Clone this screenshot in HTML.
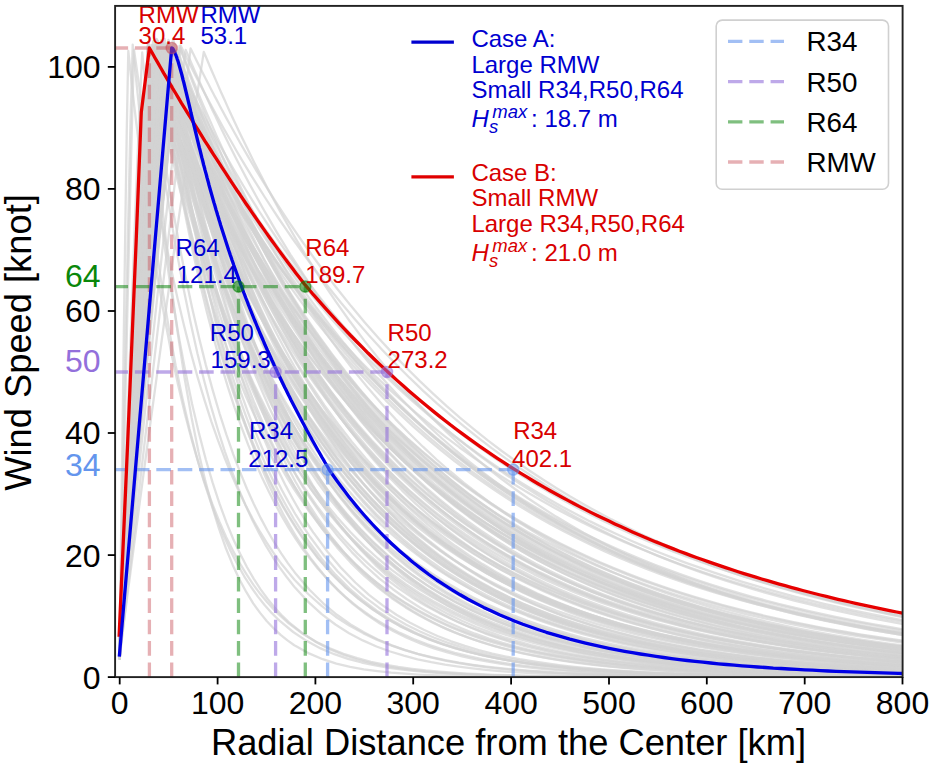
<!DOCTYPE html><html><head><meta charset="utf-8"><style>html,body{margin:0;padding:0;background:#fff;}svg{display:block;}text{font-family:"Liberation Sans",sans-serif;}</style></head><body>
<svg width="933" height="769" viewBox="0 0 933 769">
<rect width="933" height="769" fill="#fff"/>
<defs><clipPath id="ax"><rect x="115.1" y="5.9" width="787.5" height="671.2"/></clipPath></defs>
<g clip-path="url(#ax)">
<g fill="none" stroke="#d3d3d3" stroke-width="2.3" stroke-opacity="0.7" stroke-linejoin="round">
<polyline points="119.7,650.2 126.3,545.0 133.0,441.0 139.6,338.7 146.3,238.4 152.9,141.3 159.6,52.0 162.5,61.9 165.5,71.6 168.4,81.1 171.3,90.5 174.3,99.8 177.2,108.9 180.1,117.8 183.1,126.7 186.0,135.3 188.9,143.9 195.8,163.3 202.6,182.0 209.5,200.0 216.3,217.4 223.2,234.2 230.0,250.3 236.9,265.8 243.7,280.8 250.6,295.2 257.4,309.1 264.3,322.5 271.1,335.4 278.0,347.9 284.8,359.9 291.7,371.4 298.5,382.6 305.4,393.3 306.4,394.8 320.1,415.0 333.8,433.7 347.5,451.1 361.2,467.3 374.9,482.3 388.6,496.2 402.3,509.1 416.0,521.2 429.7,532.3 443.4,542.7 457.1,552.3 470.8,561.2 484.5,569.5 498.1,577.2 511.8,584.3 525.5,591.0 539.2,597.1 552.9,602.8 566.6,608.1 580.3,613.1 594.0,617.7 607.7,621.9 621.4,625.8 635.1,629.5 648.8,632.9 662.5,636.1 676.2,639.0 689.9,641.7 703.6,644.3 717.3,646.6 731.0,648.8 744.7,650.8 758.4,652.7 772.1,654.4 785.8,656.1 799.5,657.6 813.2,659.0 826.9,660.3 840.6,661.5 854.3,662.6 868.0,663.6 881.7,664.6 895.4,665.5 909.1,666.3 923,667.1"/>
<polyline points="119.7,654.0 133.7,547.7 147.7,442.8 161.8,339.7 175.8,238.8 189.8,141.2 203.8,51.9 206.8,59.0 209.7,66.0 212.6,72.8 215.6,79.6 218.5,86.4 221.4,93.0 224.4,99.6 227.3,106.1 230.2,112.5 233.2,118.9 240.0,133.5 246.9,147.6 253.7,161.5 260.6,174.9 267.4,188.0 274.3,200.8 281.1,213.2 288.0,225.3 294.8,237.1 301.7,248.6 308.5,259.7 315.4,270.6 322.2,281.2 329.1,291.6 335.9,301.6 342.8,311.4 349.6,321.0 350.6,322.3 364.3,340.6 378.0,357.9 391.7,374.3 405.4,389.9 419.1,404.7 432.8,418.7 446.5,432.0 460.2,444.7 473.9,456.6 487.6,468.0 501.3,478.8 515.0,489.0 528.7,498.7 542.4,507.8 556.1,516.6 569.8,524.8 583.5,532.7 597.2,540.1 610.9,547.2 624.6,553.9 638.3,560.2 652.0,566.2 665.7,571.9 679.4,577.3 693.1,582.5 706.8,587.4 720.5,592.0 734.2,596.4 747.9,600.5 761.6,604.5 775.3,608.2 789.0,611.7 802.7,615.1 816.4,618.3 830.1,621.3 843.8,624.2 857.5,626.9 871.2,629.5 884.9,632.0 898.6,634.3 912,636.5"/>
<polyline points="119.7,642.7 124.4,541.7 129.2,440.9 133.9,340.3 138.6,240.1 143.3,140.3 148.1,41.8 151.0,57.1 153.9,72.1 156.9,86.8 159.8,101.0 162.8,115.0 165.7,128.6 168.6,141.8 171.6,154.8 174.5,167.4 177.4,179.7 184.3,207.4 191.1,233.4 198.0,258.1 204.8,281.4 211.7,303.3 218.5,324.1 225.4,343.7 232.2,362.2 239.1,379.7 245.9,396.2 252.8,411.8 259.6,426.5 266.5,440.5 273.3,453.6 280.2,466.0 287.0,477.7 293.9,488.8 294.9,490.3 308.6,510.5 322.2,528.5 335.9,544.5 349.6,558.8 363.3,571.6 377.0,583.0 390.7,593.2 404.4,602.2 418.1,610.3 431.8,617.5 445.5,624.0 459.2,629.7 472.9,634.8 486.6,639.4 500.3,643.5 514.0,647.1 527.7,650.3 541.4,653.2 555.1,655.8 568.8,658.1 582.5,660.1 596.2,662.0 609.9,663.6 623.6,665.1 637.3,666.4 651.0,667.5 664.7,668.6 678.4,669.5 692.1,670.3 705.8,671.0 719.5,671.7 733.2,672.3 746.9,672.8 760.6,673.3 774.3,673.7 788.0,674.0 801.7,674.4 815.4,674.7 829.1,674.9 842.8,675.2 856.5,675.4 870.2,675.6 883.9,675.7 897.6,675.9 911,676.0"/>
<polyline points="119.7,637.7 126.6,537.0 133.5,437.0 140.5,337.8 147.4,239.8 154.3,143.5 161.2,51.6 164.2,63.0 167.1,74.2 170.0,85.2 173.0,95.9 175.9,106.5 178.8,116.9 181.8,127.1 184.7,137.1 187.6,146.9 190.6,156.5 197.4,178.4 204.3,199.3 211.1,219.3 218.0,238.5 224.8,256.9 231.7,274.5 238.5,291.4 245.4,307.6 252.2,323.1 259.1,337.9 265.9,352.2 272.8,365.8 279.6,378.8 286.5,391.3 293.3,403.3 300.2,414.8 307.0,425.8 308.0,427.3 321.7,447.8 335.4,466.7 349.1,484.0 362.8,499.8 376.5,514.4 390.2,527.7 403.9,540.0 417.6,551.3 431.3,561.6 445.0,571.1 458.7,579.8 472.4,587.8 486.1,595.1 499.8,601.8 513.5,608.0 527.2,613.7 540.9,618.9 554.6,623.7 568.3,628.1 582.0,632.1 595.7,635.8 609.4,639.2 623.1,642.3 636.8,645.1 650.5,647.8 664.2,650.2 677.9,652.4 691.6,654.4 705.3,656.3 719.0,658.0 732.7,659.6 746.4,661.0 760.1,662.3 773.8,663.5 787.5,664.6 801.2,665.7 814.9,666.6 828.6,667.5 842.3,668.3 856.0,669.0 869.7,669.7 883.4,670.3 897.1,670.8 911,671.3"/>
<polyline points="119.7,647.1 126.5,541.6 133.2,437.5 140.0,335.1 146.7,235.0 153.5,138.2 160.3,49.7 163.2,58.3 166.1,66.8 169.1,75.2 172.0,83.5 174.9,91.6 177.9,99.7 180.8,107.6 183.7,115.5 186.7,123.2 189.6,130.8 196.5,148.2 203.3,165.0 210.2,181.2 217.0,197.0 223.9,212.3 230.7,227.0 237.6,241.3 244.4,255.2 251.3,268.6 258.1,281.6 265.0,294.2 271.8,306.3 278.6,318.1 285.5,329.5 292.3,340.6 299.2,351.3 306.0,361.6 307.0,363.1 320.7,382.7 334.4,401.1 348.1,418.4 361.8,434.6 375.5,449.7 389.2,464.0 402.9,477.3 416.6,489.8 430.3,501.5 444.0,512.5 457.7,522.8 471.4,532.4 485.1,541.5 498.8,550.0 512.5,557.9 526.2,565.4 539.9,572.4 553.6,578.9 567.3,585.1 581.0,590.8 594.7,596.2 608.4,601.3 622.1,606.0 635.8,610.5 649.5,614.6 663.2,618.5 676.9,622.2 690.6,625.6 704.3,628.9 718.0,631.9 731.7,634.7 745.4,637.4 759.1,639.8 772.8,642.2 786.5,644.4 800.2,646.4 813.9,648.3 827.6,650.1 841.3,651.8 855.0,653.4 868.7,654.9 882.4,656.3 896.1,657.6 909.8,658.8 923,659.9"/>
<polyline points="119.7,642.1 125.1,538.0 130.5,435.2 135.9,334.2 141.3,235.4 146.8,140.1 152.2,53.1 155.1,64.2 158.0,75.2 161.0,86.0 163.9,96.6 166.8,107.0 169.8,117.2 172.7,127.2 175.6,137.0 178.6,146.7 181.5,156.2 188.4,177.7 195.2,198.3 202.1,218.1 208.9,237.0 215.8,255.2 222.6,272.6 229.5,289.3 236.3,305.3 243.2,320.6 250.0,335.3 256.9,349.4 263.7,363.0 270.6,375.9 277.4,388.3 284.3,400.3 291.1,411.7 298.0,422.6 298.9,424.2 312.6,444.6 326.3,463.4 340.0,480.7 353.7,496.6 367.4,511.1 381.1,524.6 394.8,536.9 408.5,548.2 422.2,558.6 435.9,568.2 449.6,577.0 463.3,585.1 477.0,592.5 490.7,599.4 504.4,605.7 518.1,611.4 531.8,616.7 545.5,621.6 559.2,626.1 572.9,630.2 586.6,634.0 600.3,637.5 614.0,640.7 627.7,643.6 641.4,646.3 655.1,648.8 668.8,651.1 682.5,653.2 696.2,655.1 709.9,656.9 723.6,658.6 737.3,660.1 751.0,661.4 764.7,662.7 778.4,663.9 792.1,664.9 805.8,665.9 819.5,666.8 833.2,667.7 846.9,668.4 860.6,669.1 874.3,669.8 888.0,670.4 901.7,670.9 915,671.4"/>
<polyline points="119.7,647.0 127.1,543.6 134.5,440.8 141.9,339.0 149.3,238.4 156.8,139.6 164.2,45.5 167.1,54.4 170.0,63.1 173.0,71.7 175.9,80.2 178.8,88.6 181.8,96.8 184.7,105.0 187.7,113.0 190.6,120.9 193.5,128.7 200.4,146.4 207.2,163.6 214.1,180.3 220.9,196.4 227.8,211.9 234.6,227.0 241.5,241.6 248.3,255.7 255.2,269.4 262.0,282.6 268.9,295.4 275.7,307.7 282.6,319.7 289.4,331.3 296.3,342.5 303.1,353.3 310.0,363.8 310.9,365.3 324.6,385.2 338.3,403.8 352.0,421.2 365.7,437.5 379.4,452.8 393.1,467.1 406.8,480.5 420.5,493.0 434.2,504.7 447.9,515.7 461.6,526.0 475.3,535.6 489.0,544.7 502.7,553.1 516.4,561.0 530.1,568.4 543.8,575.3 557.5,581.8 571.2,587.9 584.9,593.6 598.6,598.9 612.3,603.9 626.0,608.6 639.7,612.9 653.4,617.0 667.1,620.9 680.8,624.4 694.5,627.8 708.2,630.9 721.9,633.9 735.6,636.6 749.3,639.2 763.0,641.6 776.7,643.9 790.4,646.0 804.1,648.0 817.8,649.8 831.5,651.6 845.2,653.2 858.9,654.7 872.6,656.2 886.3,657.5 900.0,658.7 914,659.9"/>
<polyline points="119.7,635.6 128.1,532.7 136.5,430.9 145.0,330.7 153.4,232.5 161.8,137.3 170.2,49.6 173.2,57.1 176.1,64.6 179.1,72.0 182.0,79.3 184.9,86.5 187.9,93.6 190.8,100.6 193.7,107.5 196.7,114.4 199.6,121.2 206.5,136.7 213.3,151.7 220.2,166.4 227.0,180.6 233.8,194.4 240.7,207.9 247.5,221.0 254.4,233.7 261.2,246.0 268.1,258.1 274.9,269.7 281.8,281.1 288.6,292.1 295.5,302.9 302.3,313.3 309.2,323.4 316.0,333.3 317.0,334.7 330.7,353.5 344.4,371.3 358.1,388.1 371.8,404.0 385.5,419.0 399.2,433.2 412.9,446.6 426.6,459.2 440.3,471.2 454.0,482.5 467.7,493.2 481.4,503.3 495.1,512.9 508.8,521.9 522.5,530.4 536.2,538.5 549.9,546.1 563.6,553.3 577.3,560.1 591.0,566.5 604.7,572.6 618.4,578.4 632.1,583.8 645.8,588.9 659.5,593.8 673.2,598.3 686.9,602.7 700.6,606.8 714.3,610.6 728.0,614.3 741.7,617.7 755.4,621.0 769.1,624.1 782.8,627.0 796.5,629.8 810.2,632.4 823.9,634.8 837.6,637.1 851.3,639.3 865.0,641.4 878.7,643.4 892.4,645.2 906.1,647.0 920,648.6"/>
<polyline points="119.7,642.5 127.5,537.9 135.4,434.8 143.2,333.4 151.1,234.5 158.9,139.0 166.8,52.2 169.7,59.7 172.7,67.2 175.6,74.6 178.5,81.9 181.5,89.1 184.4,96.2 187.3,103.2 190.3,110.2 193.2,117.0 196.1,123.8 203.0,139.3 209.8,154.4 216.7,169.0 223.5,183.3 230.4,197.1 237.2,210.5 244.1,223.6 250.9,236.3 257.8,248.6 264.6,260.7 271.5,272.3 278.3,283.7 285.2,294.7 292.0,305.4 298.9,315.8 305.7,325.9 312.6,335.8 313.6,337.1 327.3,355.9 341.0,373.7 354.7,390.4 368.4,406.3 382.0,421.2 395.7,435.3 409.4,448.7 423.1,461.3 436.8,473.2 450.5,484.5 464.2,495.1 477.9,505.2 491.6,514.7 505.3,523.7 519.0,532.1 532.7,540.1 546.4,547.7 560.1,554.8 573.8,561.6 587.5,568.0 601.2,574.0 614.9,579.7 628.6,585.1 642.3,590.2 656.0,595.0 669.7,599.5 683.4,603.8 697.1,607.8 710.8,611.7 724.5,615.3 738.2,618.7 751.9,621.9 765.6,625.0 779.3,627.8 793.0,630.6 806.7,633.1 820.4,635.6 834.1,637.9 847.8,640.0 861.5,642.1 875.2,644.0 888.9,645.8 902.6,647.6 916,649.2"/>
<polyline points="119.7,650.4 128.7,539.7 137.7,431.7 146.7,326.9 155.7,226.3 164.7,131.8 173.7,51.2 176.6,59.9 179.5,68.5 182.5,76.9 185.4,85.3 188.3,93.5 191.3,101.6 194.2,109.6 197.2,117.5 200.1,125.3 203.0,133.0 209.9,150.5 216.7,167.4 223.6,183.8 230.4,199.6 237.3,215.0 244.1,229.9 251.0,244.2 257.8,258.1 264.7,271.6 271.5,284.6 278.4,297.3 285.2,309.5 292.1,321.3 298.9,332.7 305.8,343.8 312.6,354.5 319.5,364.9 320.4,366.3 334.1,386.0 347.8,404.4 361.5,421.7 375.2,437.8 388.9,453.0 402.6,467.1 416.3,480.4 430.0,492.9 443.7,504.5 457.4,515.4 471.1,525.7 484.8,535.2 498.5,544.2 512.2,552.6 525.9,560.5 539.6,567.9 553.3,574.8 567.0,581.3 580.7,587.3 594.4,593.0 608.1,598.3 621.8,603.3 635.5,608.0 649.2,612.3 662.9,616.4 676.6,620.3 690.3,623.9 704.0,627.2 717.7,630.4 731.4,633.4 745.1,636.1 758.8,638.7 772.5,641.1 786.2,643.4 799.9,645.5 813.6,647.5 827.3,649.4 841.0,651.2 854.7,652.8 868.4,654.3 882.1,655.8 895.8,657.1 909.5,658.4 923,659.6"/>
<polyline points="119.7,644.3 127.1,532.7 134.4,424.2 141.8,319.5 149.2,219.8 156.5,127.1 163.9,50.2 166.8,65.8 169.8,81.0 172.7,95.8 175.7,110.3 178.6,124.4 181.5,138.1 184.5,151.5 187.4,164.6 190.3,177.3 193.3,189.8 193.3,189.8 200.1,217.6 207.0,243.8 213.8,268.6 220.7,291.9 227.5,313.9 234.4,334.6 241.2,354.2 248.1,372.6 254.9,390.0 261.8,406.4 268.6,421.8 275.5,436.4 282.3,450.2 289.2,463.1 296.0,475.3 302.9,486.9 309.7,497.7 310.7,499.2 324.4,519.0 338.1,536.5 351.8,552.1 365.5,566.0 379.2,578.3 392.9,589.2 406.6,599.0 420.3,607.7 434.0,615.4 447.7,622.2 461.4,628.3 475.1,633.7 488.8,638.5 502.5,642.8 516.2,646.6 529.9,650.0 543.6,653.0 557.3,655.7 571.0,658.0 584.7,660.2 598.4,662.0 612.1,663.7 625.8,665.2 639.5,666.5 653.2,667.7 666.9,668.7 680.6,669.7 694.3,670.5 708.0,671.2 721.7,671.9 735.4,672.5 749.1,673.0 762.8,673.4 776.5,673.8 790.2,674.2 803.8,674.5 817.5,674.8 831.2,675.1 844.9,675.3 858.6,675.5 872.3,675.7 886.0,675.8 899.7,676.0 913,676.1"/>
<polyline points="119.7,638.3 128.1,535.5 136.6,434.0 145.0,334.1 153.4,236.1 161.9,141.2 170.3,53.7 173.2,70.5 176.2,86.7 179.1,102.6 182.0,118.0 185.0,133.0 187.9,147.6 190.8,161.8 193.8,175.6 196.7,189.1 199.6,202.2 199.6,202.2 206.5,231.4 213.3,258.8 220.2,284.5 227.0,308.7 233.9,331.3 240.7,352.6 247.6,372.5 254.4,391.3 261.3,408.8 268.1,425.3 275.0,440.8 281.8,455.4 288.7,469.0 295.5,481.8 302.4,493.8 309.2,505.1 316.1,515.7 317.1,517.1 330.8,536.2 344.5,553.0 358.2,567.8 371.9,580.8 385.6,592.3 399.3,602.4 413.0,611.3 426.7,619.1 440.4,626.1 454.1,632.1 467.8,637.5 481.5,642.2 495.2,646.4 508.9,650.0 522.6,653.3 536.3,656.1 549.9,658.6 563.6,660.8 577.3,662.8 591.0,664.5 604.7,666.0 618.4,667.3 632.1,668.5 645.8,669.5 659.5,670.4 673.2,671.2 686.9,671.9 700.6,672.5 714.3,673.1 728.0,673.5 741.7,674.0 755.4,674.3 769.1,674.7 782.8,675.0 796.5,675.2 810.2,675.4 823.9,675.6 837.6,675.8 851.3,676.0 865.0,676.1 878.7,676.2 892.4,676.3 906.1,676.4 920,676.5"/>
<polyline points="119.7,660.0 127.6,553.1 135.5,447.5 143.4,343.6 151.4,241.9 159.3,143.4 167.2,53.1 170.1,66.9 173.1,80.4 176.0,93.6 178.9,106.4 181.9,119.1 184.8,131.4 187.7,143.4 190.7,155.2 193.6,166.8 196.5,178.0 196.5,178.0 203.4,203.4 210.2,227.4 217.1,250.3 223.9,272.0 230.8,292.5 237.6,312.1 244.5,330.6 251.3,348.2 258.2,364.9 265.0,380.8 271.9,395.8 278.7,410.1 285.6,423.7 292.4,436.6 299.3,448.8 306.1,460.4 313.0,471.4 314.0,472.9 327.7,493.1 341.4,511.3 355.1,527.7 368.8,542.5 382.5,555.9 396.2,567.9 409.9,578.7 423.5,588.4 437.2,597.2 450.9,605.1 464.6,612.2 478.3,618.7 492.0,624.4 505.7,629.7 519.4,634.4 533.1,638.6 546.8,642.4 560.5,645.8 574.2,648.9 587.9,651.7 601.6,654.2 615.3,656.5 629.0,658.5 642.7,660.4 656.4,662.0 670.1,663.5 683.8,664.9 697.5,666.1 711.2,667.2 724.9,668.2 738.6,669.0 752.3,669.8 766.0,670.6 779.7,671.2 793.4,671.8 807.1,672.3 820.8,672.8 834.5,673.2 848.2,673.6 861.9,673.9 875.6,674.3 889.3,674.5 903.0,674.8 917,675.0"/>
<polyline points="119.7,655.2 126.0,542.9 132.2,433.3 138.5,327.1 144.7,225.3 151.0,129.8 157.2,48.8 160.2,68.7 163.1,87.9 166.0,106.5 169.0,124.5 171.9,142.0 174.8,158.9 177.8,175.3 180.7,191.1 183.6,206.5 186.6,221.4 193.4,254.3 200.3,284.8 207.1,313.1 214.0,339.4 220.8,363.7 227.7,386.4 234.5,407.3 241.4,426.8 248.2,444.9 255.1,461.6 261.9,477.2 268.8,491.6 275.6,505.0 282.5,517.4 289.3,529.0 296.2,539.7 303.0,549.6 304.0,550.9 317.7,568.5 331.4,583.6 345.1,596.6 358.8,607.8 372.5,617.5 386.2,625.8 399.9,632.9 413.6,639.0 427.3,644.3 441.0,648.9 454.7,652.8 468.4,656.2 482.1,659.1 495.8,661.6 509.5,663.8 523.2,665.6 536.9,667.2 550.6,668.6 564.3,669.8 578.0,670.8 591.7,671.7 605.4,672.4 619.1,673.1 632.8,673.6 646.5,674.1 660.2,674.5 673.9,674.9 687.6,675.2 701.3,675.5 715.0,675.7 728.7,675.9 742.4,676.1 756.1,676.2 769.8,676.3 783.5,676.4 797.2,676.5 810.9,676.6 824.6,676.7 838.3,676.7 852.0,676.8 865.7,676.8 879.4,676.9 893.1,676.9 906.8,676.9 920,677.0"/>
<polyline points="119.7,656.4 126.0,547.7 132.3,440.6 138.6,335.7 144.9,233.6 151.3,135.6 157.6,47.5 160.5,57.4 163.4,67.2 166.4,76.8 169.3,86.3 172.2,95.7 175.2,104.9 178.1,113.9 181.0,122.8 184.0,131.6 186.9,140.2 193.8,159.8 200.6,178.6 207.5,196.8 214.3,214.4 221.2,231.2 228.0,247.5 234.9,263.2 241.7,278.3 248.6,292.8 255.4,306.9 262.3,320.4 269.1,333.4 276.0,345.9 282.8,358.0 289.7,369.6 296.5,380.9 303.4,391.7 304.3,393.2 318.0,413.5 331.7,432.4 345.4,449.9 359.1,466.2 372.8,481.3 386.5,495.3 400.2,508.4 413.9,520.5 427.6,531.7 441.3,542.1 455.0,551.8 468.7,560.7 482.4,569.1 496.1,576.8 509.8,584.0 523.5,590.7 537.2,596.9 550.9,602.6 564.6,607.9 578.3,612.9 592.0,617.5 605.7,621.8 619.4,625.7 633.1,629.4 646.8,632.8 660.5,636.0 674.2,638.9 687.9,641.7 701.6,644.2 715.3,646.6 729.0,648.8 742.7,650.8 756.4,652.7 770.1,654.4 783.8,656.0 797.5,657.6 811.2,659.0 824.9,660.3 838.6,661.5 852.3,662.6 866.0,663.6 879.7,664.6 893.4,665.5 907.1,666.3 921,667.1"/>
<polyline points="119.7,652.9 127.4,546.0 135.1,440.5 142.8,336.8 150.6,235.4 158.3,137.5 166.0,48.2 168.9,57.5 171.9,66.6 174.8,75.7 177.7,84.6 180.7,93.4 183.6,102.0 186.5,110.5 189.5,118.9 192.4,127.2 195.3,135.3 202.2,153.8 209.0,171.7 215.9,189.0 222.7,205.7 229.6,221.8 236.4,237.4 243.3,252.4 250.1,267.0 257.0,281.0 263.8,294.5 270.7,307.6 277.5,320.3 284.4,332.5 291.2,344.2 298.1,355.6 304.9,366.6 311.8,377.2 312.8,378.7 326.5,398.8 340.2,417.5 353.9,435.0 367.6,451.2 381.3,466.4 395.0,480.6 408.7,493.8 422.4,506.1 436.1,517.6 449.8,528.3 463.5,538.3 477.2,547.7 490.9,556.4 504.6,564.5 518.3,572.1 532.0,579.1 545.7,585.7 559.4,591.8 573.1,597.6 586.7,602.9 600.4,607.9 614.1,612.6 627.8,616.9 641.5,621.0 655.2,624.7 668.9,628.2 682.6,631.5 696.3,634.6 710.0,637.5 723.7,640.1 737.4,642.6 751.1,644.9 764.8,647.1 778.5,649.1 792.2,651.0 805.9,652.7 819.6,654.4 833.3,655.9 847.0,657.3 860.7,658.7 874.4,659.9 888.1,661.1 901.8,662.1 916,663.1"/>
<polyline points="119.7,636.2 121.9,525.8 124.0,418.3 126.2,314.3 128.4,215.0 130.5,122.3 132.7,44.7 135.6,74.5 138.6,103.0 141.5,130.0 144.4,155.8 147.4,180.4 150.3,203.9 153.2,226.2 156.2,247.4 159.1,267.7 162.0,287.0 162.0,287.0 168.9,328.6 175.7,365.8 182.6,398.9 189.4,428.6 196.3,455.1 203.1,478.8 210.0,499.9 216.8,518.8 223.7,535.7 230.5,550.7 237.4,564.2 244.2,576.3 251.1,587.0 257.9,596.6 264.8,605.2 271.6,612.9 278.5,619.7 279.5,620.6 293.2,632.0 306.9,641.1 320.6,648.4 334.3,654.2 348.0,658.8 361.7,662.5 375.4,665.4 389.1,667.8 402.8,669.7 416.4,671.2 430.1,672.4 443.8,673.3 457.5,674.1 471.2,674.7 484.9,675.2 498.6,675.6 512.3,675.9 526.0,676.1 539.7,676.3 553.4,676.5 567.1,676.6 580.8,676.7 594.5,676.8 608.2,676.8 621.9,676.9 635.6,676.9 649.3,677.0 663.0,677.0 676.7,677.0 690.4,677.0 704.1,677.0 717.8,677.1 731.5,677.1 745.2,677.1 758.9,677.1 772.6,677.1 786.3,677.1 800.0,677.1 813.7,677.1 827.4,677.1 841.1,677.1 854.8,677.1 868.5,677.1 882.2,677.1 895.9,677.1 909.6,677.1 923,677.1"/>
<polyline points="119.7,639.7 127.3,535.0 135.0,431.6 142.6,329.7 150.2,229.9 157.9,133.2 165.5,44.0 168.4,57.3 171.4,70.3 174.3,83.0 177.2,95.5 180.2,107.7 183.1,119.6 186.0,131.3 189.0,142.8 191.9,154.0 194.8,164.9 201.7,189.7 208.5,213.2 215.4,235.6 222.2,256.9 229.1,277.1 235.9,296.4 242.8,314.8 249.6,332.3 256.5,348.9 263.3,364.8 270.2,379.8 277.0,394.2 283.9,407.8 290.7,420.8 297.6,433.2 304.4,445.0 311.3,456.2 312.3,457.7 326.0,478.4 339.7,497.1 353.4,514.0 367.1,529.4 380.8,543.3 394.5,555.9 408.1,567.3 421.8,577.7 435.5,587.0 449.2,595.5 462.9,603.2 476.6,610.2 490.3,616.5 504.0,622.2 517.7,627.3 531.4,632.0 545.1,636.3 558.8,640.1 572.5,643.6 586.2,646.8 599.9,649.6 613.6,652.2 627.3,654.5 641.0,656.7 654.7,658.6 668.4,660.3 682.1,661.9 695.8,663.3 709.5,664.6 723.2,665.8 736.9,666.9 750.6,667.8 764.3,668.7 778.0,669.5 791.7,670.2 805.4,670.9 819.1,671.5 832.8,672.0 846.5,672.5 860.2,672.9 873.9,673.3 887.6,673.7 901.3,674.0 915,674.3"/>
<polyline points="119.7,659.9 126.7,558.2 133.7,456.7 140.7,355.3 147.7,254.1 154.7,153.2 161.6,53.1 164.6,63.1 167.5,73.0 170.4,82.7 173.4,92.2 176.3,101.6 179.3,110.8 182.2,119.9 185.1,128.9 188.1,137.7 191.0,146.3 197.8,166.0 204.7,184.9 211.5,203.2 218.4,220.7 225.2,237.6 232.1,253.9 238.9,269.6 245.8,284.7 252.6,299.2 259.5,313.2 266.3,326.7 273.2,339.7 280.0,352.2 286.9,364.2 293.7,375.8 300.6,387.0 307.4,397.7 308.4,399.2 322.1,419.4 335.8,438.2 349.5,455.5 363.2,471.7 376.9,486.6 390.6,500.5 404.3,513.3 418.0,525.2 431.7,536.3 445.4,546.5 459.1,556.0 472.8,564.8 486.5,573.0 500.2,580.5 513.9,587.6 527.6,594.1 541.3,600.1 555.0,605.7 568.7,610.9 582.4,615.7 596.1,620.2 609.8,624.3 623.5,628.2 637.2,631.7 650.9,635.0 664.6,638.1 678.3,640.9 692.0,643.5 705.7,646.0 719.4,648.3 733.1,650.3 746.8,652.3 760.5,654.1 774.2,655.8 787.9,657.3 801.6,658.8 815.3,660.1 829.0,661.3 842.7,662.5 856.4,663.5 870.1,664.5 883.8,665.4 897.5,666.3 911,667.1"/>
<polyline points="119.7,644.6 127.4,533.1 135.1,424.6 142.8,319.7 150.5,219.4 158.1,125.8 165.8,47.3 168.8,56.5 171.7,65.6 174.6,74.5 177.6,83.3 180.5,92.0 183.5,100.5 186.4,108.9 189.3,117.2 192.3,125.4 195.2,133.4 202.0,151.8 208.9,169.5 215.7,186.6 222.6,203.1 229.4,219.1 236.3,234.5 243.1,249.5 250.0,263.9 256.8,277.8 263.7,291.3 270.5,304.3 277.4,316.9 284.2,329.0 291.1,340.7 297.9,352.1 304.8,363.1 311.6,373.6 312.6,375.1 326.3,395.1 340.0,413.8 353.7,431.3 367.4,447.6 381.1,462.8 394.8,477.0 408.5,490.3 422.2,502.7 435.9,514.2 449.6,525.0 463.3,535.1 477.0,544.5 490.7,553.3 504.4,561.5 518.1,569.2 531.8,576.3 545.5,583.0 559.2,589.3 572.9,595.1 586.6,600.5 600.3,605.6 614.0,610.3 627.7,614.8 641.4,618.9 655.1,622.8 668.8,626.4 682.5,629.7 696.2,632.9 709.9,635.8 723.6,638.5 737.3,641.1 751.0,643.5 764.7,645.7 778.4,647.8 792.1,649.7 805.8,651.5 819.5,653.2 833.2,654.8 846.9,656.3 860.6,657.7 874.3,659.0 888.0,660.2 901.7,661.3 915,662.3"/>
<polyline points="119.7,635.9 126.2,532.5 132.7,430.2 139.3,329.4 145.8,230.5 152.3,134.5 158.8,45.6 161.7,53.1 164.7,60.5 167.6,67.8 170.5,75.1 173.5,82.2 176.4,89.3 179.4,96.3 182.3,103.2 185.2,110.0 188.2,116.8 195.0,132.2 201.9,147.2 208.7,161.8 215.6,176.0 222.4,189.8 229.3,203.2 236.1,216.2 243.0,228.9 249.8,241.3 256.7,253.2 263.5,264.9 270.4,276.3 277.2,287.3 284.0,298.0 290.9,308.5 297.7,318.6 304.6,328.5 305.6,329.9 319.3,348.7 333.0,366.6 346.7,383.4 360.4,399.4 374.1,414.4 387.8,428.7 401.5,442.2 415.2,454.9 428.9,467.0 442.6,478.4 456.3,489.2 470.0,499.4 483.7,509.1 497.4,518.2 511.1,526.8 524.8,535.0 538.5,542.7 552.2,550.0 565.9,556.9 579.6,563.4 593.3,569.6 607.0,575.4 620.7,580.9 634.4,586.2 648.1,591.1 661.8,595.8 675.4,600.2 689.1,604.4 702.8,608.3 716.5,612.1 730.2,615.6 743.9,618.9 757.6,622.1 771.3,625.1 785.0,627.9 798.7,630.6 812.4,633.1 826.1,635.5 839.8,637.7 853.5,639.9 867.2,641.9 880.9,643.8 894.6,645.6 908.3,647.3 922,648.9"/>
<polyline points="119.7,647.1 128.3,538.7 136.9,432.6 145.6,329.4 154.2,230.0 162.8,136.1 171.4,54.8 174.3,64.8 177.3,74.6 180.2,84.2 183.1,93.6 186.1,103.0 189.0,112.1 191.9,121.2 194.9,130.0 197.8,138.8 200.8,147.4 207.6,166.9 214.5,185.7 221.3,203.8 228.2,221.3 235.0,238.1 241.9,254.3 248.7,269.8 255.6,284.9 262.4,299.3 269.3,313.2 276.1,326.7 282.9,339.6 289.8,352.0 296.6,364.0 303.5,375.5 310.3,386.7 317.2,397.4 318.2,398.9 331.9,419.0 345.6,437.7 359.3,455.0 373.0,471.1 386.7,486.0 400.4,499.8 414.1,512.7 427.8,524.6 441.5,535.6 455.2,545.8 468.9,555.3 482.6,564.1 496.3,572.3 510.0,579.9 523.7,586.9 537.4,593.5 551.1,599.5 564.8,605.1 578.5,610.3 592.2,615.2 605.9,619.7 619.6,623.8 633.3,627.7 647.0,631.2 660.7,634.6 674.3,637.6 688.0,640.5 701.7,643.1 715.4,645.6 729.1,647.9 742.8,650.0 756.5,652.0 770.2,653.8 783.9,655.5 797.6,657.0 811.3,658.5 825.0,659.8 838.7,661.1 852.4,662.2 866.1,663.3 879.8,664.3 893.5,665.2 907.2,666.1 921,666.9"/>
<polyline points="119.7,646.4 129.0,540.7 138.4,436.4 147.7,334.0 157.1,234.0 166.4,137.8 175.8,50.4 178.7,64.9 181.7,79.1 184.6,92.9 187.5,106.5 190.5,119.7 193.4,132.6 196.3,145.2 199.3,157.5 202.2,169.5 205.1,181.3 212.0,207.7 218.8,232.6 225.7,256.3 232.5,278.7 239.4,299.9 246.2,319.9 253.1,338.9 259.9,356.9 266.8,374.0 273.6,390.1 280.5,405.4 287.3,419.8 294.2,433.5 301.0,446.5 307.9,458.7 314.7,470.4 321.6,481.4 322.6,482.9 336.3,503.0 350.0,521.0 363.7,537.2 377.4,551.7 391.1,564.7 404.8,576.3 418.5,586.8 432.2,596.1 445.9,604.5 459.6,612.0 473.2,618.8 486.9,624.8 500.6,630.2 514.3,635.1 528.0,639.4 541.7,643.3 555.4,646.8 569.1,650.0 582.8,652.8 596.5,655.3 610.2,657.6 623.9,659.6 637.6,661.4 651.3,663.0 665.0,664.5 678.7,665.8 692.4,667.0 706.1,668.0 719.8,668.9 733.5,669.8 747.2,670.5 760.9,671.2 774.6,671.8 788.3,672.4 802.0,672.9 815.7,673.3 829.4,673.7 843.1,674.1 856.8,674.4 870.5,674.7 884.2,674.9 897.9,675.1 912,675.3"/>
<polyline points="119.7,644.7 123.5,536.2 127.2,430.2 131.0,327.0 134.7,227.5 138.5,133.6 142.2,52.5 145.2,82.2 148.1,110.4 151.0,137.4 154.0,163.0 156.9,187.4 159.9,210.7 162.8,232.8 165.7,254.0 168.7,274.1 171.6,293.2 178.4,334.4 185.3,371.2 192.1,404.0 199.0,433.4 205.8,459.5 212.7,482.9 219.5,503.7 226.4,522.4 233.2,539.0 240.1,553.8 246.9,567.0 253.8,578.8 260.6,589.4 267.5,598.8 274.3,607.2 281.2,614.7 288.0,621.4 289.0,622.3 302.7,633.4 316.4,642.3 330.1,649.4 343.8,655.0 357.5,659.5 371.2,663.1 384.9,665.9 398.6,668.2 412.3,670.0 426.0,671.4 439.7,672.6 453.4,673.5 467.1,674.2 480.8,674.8 494.5,675.3 508.2,675.7 521.9,675.9 535.6,676.2 549.3,676.4 563.0,676.5 576.7,676.6 590.4,676.7 604.1,676.8 617.8,676.9 631.5,676.9 645.2,677.0 658.9,677.0 672.6,677.0 686.3,677.0 700.0,677.0 713.7,677.1 727.4,677.1 741.1,677.1 754.8,677.1 768.5,677.1 782.2,677.1 795.9,677.1 809.6,677.1 823.3,677.1 837.0,677.1 850.7,677.1 864.4,677.1 878.1,677.1 891.8,677.1 905.5,677.1 919,677.1"/>
<polyline points="119.7,645.9 125.8,537.1 131.9,430.6 138.0,326.8 144.1,226.4 150.1,131.2 156.2,48.1 159.2,53.8 162.1,59.5 165.0,65.1 168.0,70.7 170.9,76.2 173.8,81.7 176.8,87.1 179.7,92.5 182.6,97.8 185.6,103.1 192.4,115.2 199.3,127.1 206.1,138.7 213.0,150.1 219.8,161.2 226.7,172.1 233.5,182.8 240.4,193.2 247.2,203.5 254.1,213.5 260.9,223.3 267.8,232.8 274.6,242.2 281.5,251.4 288.3,260.4 295.2,269.2 302.0,277.8 303.0,279.1 316.7,295.7 330.4,311.6 344.1,326.9 357.8,341.6 371.5,355.6 385.2,369.0 398.9,381.9 412.6,394.3 426.3,406.1 440.0,417.4 453.7,428.3 467.4,438.7 481.1,448.6 494.8,458.2 508.5,467.3 522.2,476.1 535.9,484.5 549.6,492.6 563.3,500.3 577.0,507.7 590.7,514.8 604.4,521.5 618.1,528.0 631.8,534.3 645.5,540.2 659.2,546.0 672.9,551.5 686.6,556.7 700.3,561.7 714.0,566.6 727.7,571.2 741.4,575.6 755.1,579.9 768.8,583.9 782.5,587.8 796.2,591.5 809.9,595.1 823.6,598.6 837.3,601.8 851.0,605.0 864.7,608.0 878.4,610.9 892.1,613.7 905.8,616.3 919,618.8"/>
<polyline points="119.7,648.6 124.4,544.4 129.2,441.0 133.9,338.6 138.6,237.5 143.3,138.5 148.1,44.7 151.0,54.0 153.9,63.1 156.9,72.1 159.8,80.9 162.8,89.6 165.7,98.2 168.6,106.7 171.6,115.0 174.5,123.2 177.4,131.3 184.3,149.8 191.1,167.6 198.0,184.8 204.8,201.5 211.7,217.5 218.5,233.1 225.4,248.1 232.2,262.6 239.1,276.6 245.9,290.1 252.8,303.2 259.6,315.8 266.5,328.0 273.3,339.8 280.2,351.2 287.0,362.2 293.9,372.9 294.9,374.4 308.6,394.5 322.2,413.3 335.9,430.8 349.6,447.2 363.3,462.4 377.0,476.7 390.7,490.0 404.4,502.4 418.1,514.0 431.8,524.9 445.5,535.0 459.2,544.4 472.9,553.3 486.6,561.5 500.3,569.2 514.0,576.3 527.7,583.0 541.4,589.3 555.1,595.1 568.8,600.6 582.5,605.6 596.2,610.4 609.9,614.8 623.6,619.0 637.3,622.8 651.0,626.4 664.7,629.8 678.4,632.9 692.1,635.9 705.8,638.6 719.5,641.2 733.2,643.6 746.9,645.8 760.6,647.9 774.3,649.8 788.0,651.6 801.7,653.3 815.4,654.9 829.1,656.4 842.8,657.7 856.5,659.0 870.2,660.2 883.9,661.4 897.6,662.4 911,663.4"/>
<polyline points="119.7,655.8 122.1,545.3 124.5,437.1 126.9,331.7 129.3,230.0 131.7,133.5 134.0,49.6 137.0,70.6 139.9,90.9 142.9,110.6 145.8,129.5 148.7,147.9 151.7,165.6 154.6,182.8 157.5,199.3 160.5,215.3 163.4,230.8 170.3,264.9 177.1,296.4 184.0,325.5 190.8,352.4 197.6,377.2 204.5,400.1 211.3,421.3 218.2,440.9 225.0,458.9 231.9,475.6 238.7,491.0 245.6,505.2 252.4,518.4 259.3,530.5 266.1,541.7 273.0,552.1 279.8,561.6 280.8,562.9 294.5,579.7 308.2,594.0 321.9,606.2 335.6,616.7 349.3,625.5 363.0,633.1 376.7,639.6 390.4,645.1 404.1,649.8 417.8,653.8 431.5,657.2 445.2,660.2 458.9,662.7 472.6,664.8 486.3,666.6 500.0,668.1 513.7,669.5 527.4,670.6 541.1,671.5 554.8,672.4 568.5,673.1 582.2,673.6 595.9,674.2 609.6,674.6 623.3,675.0 637.0,675.3 650.7,675.5 664.4,675.8 678.1,676.0 691.8,676.1 705.5,676.3 719.2,676.4 732.9,676.5 746.6,676.6 760.3,676.7 774.0,676.7 787.7,676.8 801.4,676.8 815.1,676.9 828.8,676.9 842.5,676.9 856.2,677.0 869.9,677.0 883.6,677.0 897.3,677.0 911,677.0"/>
<polyline points="119.7,648.4 125.9,543.0 132.0,438.5 138.2,335.0 144.4,233.0 150.6,133.2 156.7,38.8 159.7,46.7 162.6,54.5 165.5,62.1 168.5,69.7 171.4,77.2 174.3,84.6 177.3,91.9 180.2,99.1 183.1,106.2 186.1,113.2 192.9,129.3 199.8,144.9 206.6,160.0 213.5,174.8 220.3,189.1 227.2,203.0 234.0,216.5 240.9,229.6 247.7,242.4 254.6,254.8 261.4,266.8 268.3,278.5 275.1,289.9 282.0,300.9 288.8,311.6 295.7,322.0 302.5,332.1 303.5,333.6 317.2,352.9 330.9,371.1 344.6,388.3 358.3,404.5 372.0,419.8 385.7,434.3 399.4,447.9 413.1,460.8 426.8,472.9 440.5,484.4 454.2,495.2 467.9,505.4 481.6,515.1 495.3,524.2 509.0,532.8 522.7,540.9 536.4,548.5 550.1,555.8 563.8,562.6 577.5,569.0 591.2,575.1 604.9,580.8 618.6,586.2 632.3,591.3 646.0,596.1 659.7,600.7 673.4,605.0 687.1,609.0 700.8,612.9 714.5,616.5 728.2,619.9 741.9,623.1 755.6,626.1 769.3,629.0 783.0,631.7 796.7,634.2 810.4,636.6 824.1,638.9 837.8,641.1 851.5,643.1 865.2,645.0 878.9,646.8 892.6,648.5 906.3,650.1 920,651.6"/>
<polyline points="119.7,655.1 127.1,550.2 134.5,446.3 141.8,343.7 149.2,242.8 156.6,144.4 164.0,52.3 166.9,61.1 169.8,69.7 172.8,78.3 175.7,86.7 178.7,95.0 181.6,103.2 184.5,111.2 187.5,119.2 190.4,127.0 193.3,134.7 200.2,152.3 207.0,169.4 213.9,185.9 220.7,201.8 227.6,217.2 234.4,232.2 241.3,246.6 248.1,260.6 255.0,274.1 261.8,287.2 268.7,299.8 275.5,312.1 282.4,323.9 289.2,335.4 296.1,346.5 302.9,357.2 309.8,367.6 310.8,369.1 324.5,388.8 338.1,407.2 351.8,424.4 365.5,440.6 379.2,455.7 392.9,469.8 406.6,483.0 420.3,495.4 434.0,507.0 447.7,517.9 461.4,528.1 475.1,537.6 488.8,546.5 502.5,554.8 516.2,562.7 529.9,570.0 543.6,576.8 557.3,583.2 571.0,589.2 584.7,594.8 598.4,600.1 612.1,605.0 625.8,609.6 639.5,613.9 653.2,618.0 666.9,621.7 680.6,625.3 694.3,628.6 708.0,631.7 721.7,634.6 735.4,637.3 749.1,639.8 762.8,642.2 776.5,644.4 790.2,646.5 803.9,648.5 817.6,650.3 831.3,652.0 845.0,653.6 858.7,655.1 872.4,656.5 886.1,657.8 899.8,659.1 914,660.2"/>
<polyline points="119.7,658.5 124.4,552.8 129.2,447.8 133.9,343.6 138.6,240.6 143.3,139.3 148.1,42.4 151.0,54.2 153.9,65.7 156.9,77.1 159.8,88.2 162.8,99.2 165.7,109.9 168.6,120.4 171.6,130.8 174.5,140.9 177.4,150.9 184.3,173.4 191.1,194.9 198.0,215.6 204.8,235.3 211.7,254.2 218.5,272.3 225.4,289.6 232.2,306.2 239.1,322.1 245.9,337.3 252.8,351.8 259.6,365.7 266.5,379.0 273.3,391.8 280.2,404.0 287.0,415.7 293.9,426.9 294.9,428.4 308.6,449.3 322.2,468.3 335.9,485.8 349.6,501.8 363.3,516.5 377.0,530.0 390.7,542.3 404.4,553.6 418.1,563.9 431.8,573.4 445.5,582.1 459.2,590.0 472.9,597.3 486.6,604.0 500.3,610.1 514.0,615.7 527.7,620.9 541.4,625.6 555.1,629.9 568.8,633.8 582.5,637.5 596.2,640.8 609.9,643.8 623.6,646.6 637.3,649.2 651.0,651.5 664.7,653.7 678.4,655.6 692.1,657.4 705.8,659.1 719.5,660.6 733.2,662.0 746.9,663.2 760.6,664.4 774.3,665.5 788.0,666.4 801.7,667.3 815.4,668.1 829.1,668.9 842.8,669.6 856.5,670.2 870.2,670.8 883.9,671.3 897.6,671.8 911,672.2"/>
<polyline points="119.7,644.3 125.7,532.2 131.7,423.1 137.7,317.7 143.6,217.2 149.6,123.6 155.6,45.7 158.6,51.7 161.5,57.6 164.4,63.4 167.4,69.2 170.3,74.9 173.2,80.6 176.2,86.2 179.1,91.8 182.0,97.3 185.0,102.7 191.8,115.3 198.7,127.5 205.5,139.5 212.4,151.3 219.2,162.7 226.1,174.0 232.9,184.9 239.8,195.7 246.6,206.2 253.5,216.5 260.3,226.5 267.2,236.4 274.0,246.0 280.9,255.4 287.7,264.6 294.6,273.6 301.4,282.4 302.4,283.6 316.1,300.6 329.8,316.9 343.5,332.4 357.2,347.3 370.9,361.6 384.6,375.2 398.3,388.2 412.0,400.7 425.7,412.6 439.4,424.0 453.1,435.0 466.8,445.4 480.5,455.4 494.2,465.0 507.9,474.2 521.6,482.9 535.3,491.3 549.0,499.3 562.7,507.0 576.4,514.3 590.1,521.4 603.8,528.1 617.5,534.5 631.2,540.7 644.9,546.6 658.6,552.2 672.3,557.6 686.0,562.8 699.7,567.7 713.4,572.4 727.1,576.9 740.8,581.3 754.5,585.4 768.2,589.4 781.9,593.2 795.6,596.8 809.3,600.2 823.0,603.6 836.7,606.7 850.4,609.8 864.1,612.7 877.7,615.5 891.4,618.1 905.1,620.7 919,623.1"/>
<polyline points="119.7,644.0 126.5,537.7 133.3,433.0 140.1,330.3 146.9,230.2 153.7,134.0 160.5,47.2 163.5,58.4 166.4,69.5 169.3,80.3 172.3,91.0 175.2,101.4 178.1,111.7 181.1,121.8 184.0,131.7 187.0,141.5 189.9,151.0 196.7,172.7 203.6,193.5 210.4,213.4 217.3,232.5 224.1,250.8 231.0,268.3 237.8,285.1 244.7,301.3 251.5,316.8 258.4,331.6 265.2,345.8 272.1,359.5 278.9,372.5 285.8,385.1 292.6,397.1 299.5,408.6 306.3,419.7 307.3,421.2 321.0,441.9 334.7,460.8 348.4,478.3 362.1,494.3 375.8,509.0 389.5,522.6 403.2,535.1 416.9,546.5 430.6,557.0 444.3,566.7 458.0,575.6 471.7,583.8 485.4,591.3 499.1,598.2 512.8,604.6 526.5,610.5 540.2,615.8 553.9,620.8 567.6,625.3 581.3,629.5 595.0,633.3 608.7,636.9 622.4,640.1 636.1,643.1 649.8,645.8 663.5,648.4 677.2,650.7 690.9,652.8 704.6,654.8 718.3,656.6 732.0,658.2 745.7,659.7 759.4,661.1 773.1,662.4 786.8,663.6 800.5,664.7 814.2,665.7 827.9,666.6 841.6,667.5 855.3,668.2 869.0,669.0 882.7,669.6 896.4,670.2 910.1,670.8 924,671.3"/>
<polyline points="119.7,635.7 128.6,531.2 137.5,427.8 146.3,325.9 155.2,225.9 164.1,128.8 173.0,38.8 175.9,48.8 178.8,58.6 181.8,68.3 184.7,77.8 187.6,87.2 190.6,96.4 193.5,105.5 196.5,114.4 199.4,123.2 202.3,131.9 209.2,151.5 216.0,170.5 222.9,188.8 229.7,206.4 236.6,223.4 243.4,239.8 250.3,255.6 257.1,270.8 264.0,285.4 270.8,299.6 277.7,313.2 284.5,326.3 291.4,339.0 298.2,351.2 305.1,363.0 311.9,374.3 318.8,385.2 319.7,386.8 333.4,407.3 347.1,426.5 360.8,444.2 374.5,460.7 388.2,476.1 401.9,490.3 415.6,503.6 429.3,515.9 443.0,527.3 456.7,537.9 470.4,547.8 484.1,556.9 497.8,565.5 511.5,573.4 525.2,580.7 538.9,587.6 552.6,593.9 566.3,599.8 580.0,605.3 593.7,610.4 607.4,615.1 621.1,619.5 634.8,623.6 648.5,627.4 662.2,630.9 675.9,634.2 689.6,637.2 703.3,640.0 717.0,642.7 730.7,645.1 744.4,647.4 758.1,649.5 771.8,651.4 785.5,653.3 799.2,654.9 812.9,656.5 826.6,658.0 840.3,659.3 854.0,660.6 867.7,661.8 881.4,662.8 895.1,663.9 908.8,664.8 922,665.7"/>
<polyline points="119.7,652.9 124.4,549.0 129.2,445.7 133.9,343.4 138.6,242.3 143.3,142.9 148.1,48.2 151.0,57.8 153.9,67.2 156.9,76.5 159.8,85.6 162.8,94.6 165.7,103.5 168.6,112.2 171.6,120.8 174.5,129.2 177.4,137.6 184.3,156.5 191.1,174.8 198.0,192.5 204.8,209.5 211.7,225.9 218.5,241.8 225.4,257.1 232.2,271.8 239.1,286.1 245.9,299.8 252.8,313.1 259.6,325.9 266.5,338.2 273.3,350.1 280.2,361.6 287.0,372.7 293.9,383.4 294.9,384.9 308.6,405.1 322.2,423.9 335.9,441.3 349.6,457.6 363.3,472.8 377.0,486.9 390.7,500.0 404.4,512.2 418.1,523.6 431.8,534.2 445.5,544.1 459.2,553.3 472.9,561.8 486.6,569.8 500.3,577.2 514.0,584.1 527.7,590.5 541.4,596.5 555.1,602.1 568.8,607.2 582.5,612.1 596.2,616.5 609.9,620.7 623.6,624.6 637.3,628.2 651.0,631.6 664.7,634.8 678.4,637.7 692.1,640.4 705.8,642.9 719.5,645.3 733.2,647.5 746.9,649.5 760.6,651.4 774.3,653.2 788.0,654.9 801.7,656.4 815.4,657.8 829.1,659.2 842.8,660.4 856.5,661.5 870.2,662.6 883.9,663.6 897.6,664.6 911,665.4"/>
<polyline points="119.7,636.5 127.8,537.0 135.9,437.9 143.9,339.3 152.0,241.4 160.1,144.5 168.2,50.2 171.1,64.0 174.0,77.6 177.0,90.9 179.9,103.8 182.8,116.5 185.8,128.9 188.7,141.0 191.6,152.9 194.6,164.4 197.5,175.8 204.4,201.3 211.2,225.4 218.1,248.4 224.9,270.2 231.8,290.9 238.6,310.5 245.5,329.1 252.3,346.8 259.2,363.6 266.0,379.5 272.9,394.7 279.7,409.0 286.6,422.7 293.4,435.6 300.3,447.9 307.1,459.5 314.0,470.6 314.9,472.1 328.6,492.4 342.3,510.7 356.0,527.2 369.7,542.0 383.4,555.4 397.1,567.5 410.8,578.3 424.5,588.1 438.2,596.9 451.9,604.9 465.6,612.0 479.3,618.5 493.0,624.3 506.7,629.5 520.4,634.2 534.1,638.5 547.8,642.3 561.5,645.8 575.2,648.9 588.9,651.7 602.6,654.2 616.3,656.4 630.0,658.5 643.7,660.3 657.4,662.0 671.1,663.5 684.8,664.8 698.5,666.1 712.2,667.2 725.9,668.1 739.6,669.0 753.3,669.8 767.0,670.5 780.7,671.2 794.4,671.8 808.1,672.3 821.8,672.8 835.5,673.2 849.2,673.6 862.9,673.9 876.6,674.3 890.3,674.5 904.0,674.8 918,675.0"/>
<polyline points="119.7,636.2 127.7,528.1 135.6,422.3 143.6,319.2 151.5,219.6 159.5,125.2 167.4,42.9 170.3,61.5 173.3,79.5 176.2,97.0 179.1,114.0 182.1,130.5 185.0,146.5 188.0,162.1 190.9,177.2 193.8,191.8 196.8,206.0 203.6,237.6 210.5,267.1 217.3,294.5 224.2,320.2 231.0,344.1 237.9,366.4 244.7,387.2 251.6,406.7 258.4,424.8 265.3,441.7 272.1,457.5 279.0,472.2 285.8,485.9 292.7,498.7 299.5,510.7 306.3,521.8 313.2,532.3 314.2,533.7 327.9,552.3 341.6,568.4 355.3,582.5 369.0,594.8 382.7,605.4 396.4,614.7 410.1,622.8 423.8,629.8 437.5,636.0 451.2,641.3 464.9,645.9 478.6,650.0 492.3,653.5 506.0,656.5 519.7,659.2 533.4,661.5 547.1,663.5 560.8,665.3 574.5,666.8 588.2,668.2 601.9,669.3 615.6,670.3 629.3,671.2 643.0,672.0 656.7,672.6 670.4,673.2 684.1,673.7 697.7,674.2 711.4,674.5 725.1,674.9 738.8,675.2 752.5,675.4 766.2,675.6 779.9,675.8 793.6,676.0 807.3,676.1 821.0,676.3 834.7,676.4 848.4,676.5 862.1,676.5 875.8,676.6 889.5,676.7 903.2,676.7 917,676.8"/>
<polyline points="119.7,658.2 124.4,549.3 129.2,442.1 133.9,337.0 138.6,234.7 143.3,136.5 148.1,48.2 151.0,57.2 153.9,66.1 156.9,74.9 159.8,83.5 162.8,92.0 165.7,100.5 168.6,108.7 171.6,116.9 174.5,124.9 177.4,132.9 184.3,150.9 191.1,168.4 198.0,185.3 204.8,201.6 211.7,217.4 218.5,232.7 225.4,247.4 232.2,261.7 239.1,275.5 245.9,288.8 252.8,301.7 259.6,314.2 266.5,326.2 273.3,337.9 280.2,349.1 287.0,360.0 293.9,370.5 294.9,372.0 308.6,391.9 322.2,410.6 335.9,428.0 349.6,444.2 363.3,459.4 377.0,473.6 390.7,486.9 404.4,499.3 418.1,511.0 431.8,521.8 445.5,531.9 459.2,541.4 472.9,550.3 486.6,558.6 500.3,566.3 514.0,573.5 527.7,580.3 541.4,586.6 555.1,592.5 568.8,598.0 582.5,603.2 596.2,608.0 609.9,612.5 623.6,616.8 637.3,620.7 651.0,624.4 664.7,627.8 678.4,631.0 692.1,634.0 705.8,636.9 719.5,639.5 733.2,641.9 746.9,644.2 760.6,646.4 774.3,648.4 788.0,650.3 801.7,652.0 815.4,653.7 829.1,655.2 842.8,656.6 856.5,658.0 870.2,659.2 883.9,660.4 897.6,661.5 911,662.5"/>
<polyline points="119.7,651.5 128.1,545.0 136.5,439.8 145.0,336.4 153.4,235.1 161.8,137.2 170.2,47.4 173.2,54.1 176.1,60.7 179.1,67.3 182.0,73.8 184.9,80.2 187.9,86.6 190.8,92.9 193.7,99.1 196.7,105.3 199.6,111.4 199.6,111.4 206.5,125.3 213.3,138.9 220.2,152.2 227.0,165.2 233.9,177.8 240.7,190.1 247.5,202.2 254.4,213.9 261.2,225.3 268.1,236.5 274.9,247.4 281.8,258.0 288.6,268.3 295.5,278.4 302.3,288.2 309.2,297.8 316.0,307.2 317.0,308.5 330.7,326.5 344.4,343.6 358.1,359.9 371.8,375.3 385.5,390.0 399.2,404.0 412.9,417.4 426.6,430.0 440.3,442.1 454.0,453.5 467.7,464.4 481.4,474.8 495.1,484.7 508.8,494.1 522.5,503.0 536.2,511.5 549.9,519.5 563.6,527.2 577.3,534.5 591.0,541.5 604.7,548.1 618.4,554.4 632.1,560.4 645.8,566.1 659.5,571.5 673.2,576.6 686.9,581.5 700.6,586.2 714.3,590.6 728.0,594.8 741.7,598.9 755.4,602.7 769.1,606.3 782.8,609.8 796.5,613.0 810.2,616.2 823.9,619.1 837.6,622.0 851.3,624.6 865.0,627.2 878.7,629.6 892.4,632.0 906.1,634.2 920,636.2"/>
<polyline points="119.7,658.3 126.3,551.6 132.8,446.2 139.4,342.2 145.9,240.1 152.5,140.9 159.0,48.8 162.0,58.7 164.9,68.5 167.8,78.1 170.8,87.5 173.7,96.8 176.7,105.9 179.6,114.9 182.5,123.8 185.5,132.5 188.4,141.1 195.2,160.6 202.1,179.4 208.9,197.5 215.8,214.9 222.6,231.7 229.5,247.9 236.3,263.5 243.2,278.6 250.0,293.1 256.9,307.0 263.7,320.5 270.6,333.5 277.4,346.0 284.3,358.0 291.1,369.6 298.0,380.8 304.8,391.6 305.8,393.1 319.5,413.4 333.2,432.2 346.9,449.7 360.6,466.0 374.3,481.0 388.0,495.0 401.7,508.0 415.4,520.1 429.1,531.3 442.8,541.7 456.5,551.4 470.2,560.4 483.9,568.7 497.6,576.5 511.3,583.7 525.0,590.3 538.7,596.5 552.4,602.3 566.1,607.6 579.8,612.6 593.5,617.2 607.2,621.5 620.9,625.4 634.6,629.1 648.3,632.6 662.0,635.7 675.7,638.7 689.4,641.4 703.1,644.0 716.8,646.4 730.5,648.5 744.2,650.6 757.9,652.5 771.6,654.2 785.3,655.9 799.0,657.4 812.7,658.8 826.4,660.1 840.1,661.3 853.8,662.4 867.5,663.5 881.2,664.5 894.9,665.4 908.6,666.2 922,667.0"/>
<polyline points="119.7,639.4 127.8,536.6 135.8,434.5 143.9,333.5 151.9,233.8 160.0,136.1 168.0,43.5 171.0,49.7 173.9,55.9 176.8,62.1 179.8,68.1 182.7,74.1 185.6,80.1 188.6,85.9 191.5,91.8 194.4,97.5 197.4,103.3 204.2,116.4 211.1,129.2 217.9,141.7 224.8,153.9 231.6,165.9 238.5,177.6 245.3,189.0 252.2,200.1 259.0,211.0 265.9,221.7 272.7,232.1 279.6,242.3 286.4,252.2 293.3,261.9 300.1,271.4 307.0,280.7 313.8,289.7 314.8,291.0 328.5,308.5 342.2,325.1 355.9,341.0 369.6,356.2 383.3,370.7 397.0,384.5 410.7,397.8 424.4,410.4 438.1,422.4 451.8,433.9 465.5,444.9 479.2,455.4 492.9,465.4 506.6,475.0 520.3,484.1 534.0,492.8 547.7,501.2 561.4,509.1 575.1,516.7 588.8,524.0 602.5,530.9 616.2,537.5 629.9,543.8 643.6,549.8 657.3,555.6 671.0,561.1 684.7,566.3 698.4,571.3 712.1,576.1 725.8,580.6 739.5,585.0 753.2,589.2 766.9,593.1 780.6,596.9 794.3,600.6 808.0,604.0 821.7,607.3 835.4,610.5 849.1,613.5 862.8,616.4 876.5,619.1 890.1,621.7 903.8,624.2 918,626.6"/>
<polyline points="119.7,647.9 126.5,536.4 133.2,427.8 140.0,322.8 146.8,222.4 153.5,128.7 160.3,50.1 163.2,62.3 166.2,74.2 169.1,85.9 172.0,97.4 175.0,108.7 177.9,119.7 180.9,130.6 183.8,141.2 186.7,151.6 189.7,161.8 189.7,161.8 196.5,184.9 203.4,206.9 210.2,227.9 217.1,248.0 223.9,267.3 230.8,285.6 237.6,303.1 244.5,319.9 251.3,335.8 258.2,351.1 265.0,365.7 271.9,379.6 278.7,393.0 285.6,405.7 292.4,417.8 299.3,429.4 306.1,440.5 307.1,442.0 320.8,462.6 334.5,481.4 348.2,498.5 361.9,514.1 375.6,528.4 389.3,541.4 403.0,553.3 416.7,564.1 430.4,574.0 444.1,583.0 457.8,591.3 471.5,598.8 485.2,605.6 498.9,611.9 512.6,617.6 526.3,622.8 540.0,627.5 553.7,631.9 567.4,635.8 581.1,639.4 594.8,642.7 608.5,645.8 622.2,648.5 635.9,651.0 649.6,653.3 663.3,655.4 677.0,657.3 690.7,659.0 704.4,660.6 718.1,662.0 731.8,663.3 745.5,664.6 759.1,665.7 772.8,666.7 786.5,667.6 800.2,668.4 813.9,669.2 827.6,669.9 841.3,670.5 855.0,671.1 868.7,671.6 882.4,672.1 896.1,672.5 909.8,672.9 924,673.3"/>
<polyline points="119.7,639.9 124.4,541.1 129.2,442.4 133.9,343.7 138.6,245.0 143.3,146.5 148.1,48.3 151.0,57.3 153.9,66.2 156.9,74.9 159.8,83.5 162.8,92.0 165.7,100.4 168.6,108.7 171.6,116.8 174.5,124.8 177.4,132.8 184.3,150.8 191.1,168.2 198.0,185.0 204.8,201.3 211.7,217.1 218.5,232.3 225.4,247.0 232.2,261.3 239.1,275.0 245.9,288.3 252.8,301.2 259.6,313.6 266.5,325.7 273.3,337.3 280.2,348.6 287.0,359.4 293.9,369.9 294.9,371.4 308.6,391.3 322.2,409.9 335.9,427.3 349.6,443.6 363.3,458.8 377.0,473.0 390.7,486.3 404.4,498.7 418.1,510.3 431.8,521.2 445.5,531.3 459.2,540.8 472.9,549.7 486.6,558.0 500.3,565.7 514.0,573.0 527.7,579.8 541.4,586.1 555.1,592.0 568.8,597.6 582.5,602.8 596.2,607.6 609.9,612.1 623.6,616.3 637.3,620.3 651.0,624.0 664.7,627.5 678.4,630.7 692.1,633.7 705.8,636.5 719.5,639.2 733.2,641.6 746.9,644.0 760.6,646.1 774.3,648.1 788.0,650.0 801.7,651.8 815.4,653.4 829.1,655.0 842.8,656.4 856.5,657.8 870.2,659.0 883.9,660.2 897.6,661.3 911,662.3"/>
<polyline points="119.7,659.1 125.7,557.1 131.7,455.3 137.7,353.7 143.7,252.5 149.7,151.9 155.6,52.7 158.6,67.3 161.5,81.5 164.5,95.4 167.4,108.9 170.3,122.2 173.3,135.1 176.2,147.7 179.1,160.0 182.1,172.1 185.0,183.9 191.9,210.3 198.7,235.2 205.6,258.9 212.4,281.3 219.2,302.4 226.1,322.5 232.9,341.5 239.8,359.4 246.6,376.4 253.5,392.5 260.3,407.7 267.2,422.2 274.0,435.8 280.9,448.7 287.7,460.9 294.6,472.5 301.4,483.5 302.4,485.0 316.1,505.0 329.8,522.9 343.5,539.0 357.2,553.4 370.9,566.2 384.6,577.8 398.3,588.1 412.0,597.4 425.7,605.7 439.4,613.1 453.1,619.8 466.8,625.8 480.5,631.1 494.2,635.9 507.9,640.2 521.6,644.0 535.3,647.5 549.0,650.6 562.7,653.3 576.4,655.8 590.1,658.0 603.8,660.0 617.5,661.8 631.2,663.4 644.9,664.8 658.6,666.1 672.3,667.2 686.0,668.3 699.7,669.2 713.4,670.0 727.1,670.8 740.8,671.4 754.5,672.0 768.2,672.5 781.9,673.0 795.6,673.4 809.3,673.8 823.0,674.2 836.7,674.5 850.4,674.7 864.1,675.0 877.8,675.2 891.5,675.4 905.2,675.6 919,675.7"/>
<polyline points="119.7,659.9 128.3,557.6 136.8,455.5 145.4,353.7 154.0,252.1 162.6,151.0 171.1,51.1 174.1,61.5 177.0,71.7 179.9,81.7 182.9,91.6 185.8,101.3 188.7,110.8 191.7,120.2 194.6,129.4 197.6,138.5 200.5,147.4 207.3,167.6 214.2,187.1 221.0,205.8 227.9,223.8 234.7,241.1 241.6,257.8 248.4,273.8 255.3,289.2 262.1,304.0 269.0,318.3 275.8,332.0 282.7,345.2 289.5,357.9 296.4,370.0 303.2,381.8 310.1,393.1 316.9,403.9 317.9,405.4 331.6,425.8 345.3,444.6 359.0,462.0 372.7,478.2 386.4,493.1 400.1,506.9 413.8,519.6 427.5,531.4 441.2,542.3 454.9,552.4 468.6,561.8 482.3,570.4 496.0,578.4 509.7,585.8 523.4,592.7 537.1,599.0 550.8,604.8 564.5,610.3 578.2,615.3 591.9,619.9 605.6,624.2 619.3,628.2 633.0,631.8 646.7,635.2 660.4,638.4 674.1,641.3 687.8,643.9 701.5,646.4 715.2,648.7 728.9,650.9 742.6,652.8 756.3,654.6 770.0,656.3 783.7,657.9 797.4,659.3 811.1,660.7 824.8,661.9 838.5,663.0 852.2,664.1 865.9,665.1 879.6,666.0 893.3,666.8 907.0,667.6 921,668.3"/>
<polyline points="119.7,654.2 128.0,550.1 136.3,446.8 144.7,344.6 153.0,243.7 161.3,144.9 169.6,51.3 172.5,62.1 175.5,72.6 178.4,83.0 181.3,93.2 184.3,103.3 187.2,113.1 190.2,122.8 193.1,132.4 196.0,141.7 199.0,150.9 205.8,171.8 212.7,191.8 219.5,211.0 226.4,229.5 233.2,247.2 240.1,264.3 246.9,280.6 253.8,296.4 260.6,311.5 267.5,325.9 274.3,339.9 281.2,353.2 288.0,366.1 294.9,378.4 301.7,390.2 308.6,401.6 315.4,412.5 316.4,414.0 330.1,434.5 343.8,453.3 357.5,470.7 371.2,486.8 384.9,501.6 398.6,515.2 412.3,527.8 426.0,539.4 439.7,550.1 453.4,559.9 467.1,569.0 480.8,577.4 494.5,585.2 508.2,592.3 521.9,598.9 535.6,605.0 549.3,610.6 563.0,615.8 576.7,620.5 590.4,624.9 604.1,629.0 617.8,632.7 631.5,636.2 645.2,639.3 658.9,642.3 672.6,645.0 686.3,647.5 700.0,649.8 713.7,651.9 727.4,653.9 741.1,655.7 754.8,657.3 768.4,658.9 782.1,660.3 795.8,661.6 809.5,662.8 823.2,663.9 836.9,664.9 850.6,665.9 864.3,666.8 878.0,667.6 891.7,668.3 905.4,669.0 919,669.6"/>
<polyline points="119.7,645.3 124.7,542.9 129.6,441.4 134.6,340.9 139.6,241.8 144.6,145.0 149.5,53.5 152.5,67.0 155.4,80.1 158.3,93.0 161.3,105.6 164.2,117.9 167.1,130.0 170.1,141.8 173.0,153.3 176.0,164.6 178.9,175.6 185.7,200.5 192.6,224.1 199.4,246.6 206.3,268.0 213.1,288.2 220.0,307.5 226.8,325.9 233.7,343.3 240.5,359.8 247.4,375.6 254.2,390.5 261.1,404.7 267.9,418.2 274.8,431.1 281.6,443.3 288.5,454.9 295.3,465.9 296.3,467.4 310.0,487.7 323.7,506.0 337.4,522.6 351.1,537.5 364.8,551.0 378.5,563.2 392.2,574.2 405.9,584.2 419.6,593.2 433.3,601.3 447.0,608.6 460.7,615.2 474.4,621.2 488.1,626.6 501.8,631.5 515.5,635.9 529.2,639.9 542.9,643.5 556.6,646.8 570.3,649.7 584.0,652.3 597.7,654.7 611.4,656.9 625.1,658.9 638.8,660.6 652.5,662.2 666.2,663.7 679.9,665.0 693.6,666.1 707.3,667.2 721.0,668.1 734.7,669.0 748.4,669.8 762.1,670.5 775.8,671.1 789.5,671.7 803.2,672.2 816.9,672.7 830.6,673.1 844.3,673.5 858.0,673.9 871.7,674.2 885.4,674.5 899.1,674.7 913,674.9"/>
<polyline points="119.7,639.3 129.7,533.6 139.6,430.0 149.6,329.0 159.6,231.4 169.6,138.8 179.5,57.7 182.5,66.2 185.4,74.4 188.3,82.6 191.3,90.7 194.2,98.6 197.1,106.5 200.1,114.2 203.0,121.9 205.9,129.4 208.9,136.8 215.7,153.8 222.6,170.2 229.4,186.1 236.3,201.5 243.1,216.4 250.0,230.9 256.8,244.9 263.7,258.4 270.5,271.6 277.4,284.3 284.2,296.6 291.1,308.6 297.9,320.1 304.8,331.3 311.6,342.2 318.5,352.7 325.3,362.9 326.3,364.3 340.0,383.6 353.7,401.7 367.4,418.7 381.1,434.7 394.8,449.7 408.5,463.7 422.2,476.9 435.9,489.3 449.6,500.9 463.3,511.8 477.0,522.0 490.7,531.5 504.4,540.5 518.1,549.0 531.8,556.9 545.5,564.3 559.2,571.3 572.9,577.8 586.6,583.9 600.3,589.7 614.0,595.1 627.7,600.2 641.4,604.9 655.1,609.4 668.8,613.6 682.5,617.5 696.2,621.2 709.9,624.6 723.6,627.9 737.3,630.9 751.0,633.8 764.7,636.4 778.4,638.9 792.1,641.3 805.8,643.5 819.5,645.6 833.2,647.5 846.9,649.4 860.6,651.1 874.3,652.7 888.0,654.2 901.7,655.6 915,656.9"/>
<polyline points="119.7,658.3 126.8,547.2 134.0,438.1 141.1,331.3 148.2,227.8 155.3,128.9 162.5,41.0 165.4,54.1 168.3,66.9 171.3,79.5 174.2,91.8 177.1,103.8 180.1,115.6 183.0,127.2 185.9,138.5 188.9,149.6 191.8,160.4 198.7,184.9 205.5,208.2 212.4,230.4 219.2,251.6 226.1,271.7 232.9,290.9 239.8,309.2 246.6,326.6 253.5,343.2 260.3,359.0 267.2,374.1 274.0,388.4 280.9,402.1 287.7,415.1 294.6,427.5 301.4,439.4 308.3,450.6 309.2,452.2 322.9,473.0 336.6,491.9 350.3,509.0 364.0,524.5 377.7,538.6 391.4,551.4 405.1,563.1 418.8,573.6 432.5,583.2 446.2,591.9 459.9,599.7 473.6,606.9 487.3,613.4 501.0,619.3 514.7,624.6 528.4,629.5 542.1,633.9 555.8,637.9 569.5,641.5 583.2,644.8 596.9,647.8 610.6,650.5 624.3,653.0 638.0,655.2 651.7,657.2 665.4,659.1 679.1,660.7 692.8,662.2 706.5,663.6 720.2,664.9 733.9,666.0 747.6,667.0 761.3,667.9 775.0,668.8 788.7,669.6 802.4,670.3 816.1,670.9 829.8,671.5 843.5,672.0 857.2,672.5 870.9,672.9 884.6,673.3 898.3,673.6 912,674.0"/>
<polyline points="119.7,642.1 126.2,530.5 132.8,422.1 139.3,317.8 145.8,218.7 152.3,126.9 158.9,51.6 161.8,64.6 164.7,77.4 167.7,89.8 170.6,102.0 173.5,113.9 176.5,125.6 179.4,137.1 182.4,148.3 185.3,159.3 188.2,170.0 195.1,194.3 201.9,217.4 208.8,239.3 215.6,260.2 222.5,280.2 229.3,299.1 236.2,317.2 243.0,334.4 249.9,350.8 256.7,366.4 263.6,381.2 270.4,395.4 277.3,408.8 284.1,421.6 291.0,433.9 297.8,445.5 304.7,456.5 305.6,458.1 319.3,478.5 333.0,497.0 346.7,513.8 360.4,529.1 374.1,542.9 387.8,555.4 401.5,566.8 415.2,577.1 428.9,586.4 442.6,594.8 456.3,602.5 470.0,609.5 483.7,615.8 497.4,621.5 511.1,626.7 524.8,631.4 538.5,635.7 552.2,639.5 565.9,643.0 579.6,646.2 593.3,649.1 607.0,651.7 620.7,654.1 634.4,656.2 648.1,658.2 661.8,659.9 675.5,661.5 689.2,663.0 702.9,664.3 716.6,665.5 730.3,666.6 744.0,667.6 757.7,668.5 771.4,669.3 785.1,670.0 798.8,670.7 812.5,671.3 826.2,671.8 839.9,672.3 853.6,672.7 867.3,673.1 881.0,673.5 894.7,673.9 908.4,674.2 922,674.4"/>
<polyline points="119.7,642.3 128.4,536.3 137.1,432.0 145.7,329.7 154.4,230.1 163.1,134.5 171.8,48.4 174.7,56.1 177.7,63.6 180.6,71.0 183.5,78.4 186.5,85.6 189.4,92.8 192.3,99.9 195.3,106.9 198.2,113.8 201.1,120.7 208.0,136.3 214.8,151.5 221.7,166.2 228.5,180.6 235.4,194.5 242.2,208.0 249.1,221.2 255.9,234.0 262.8,246.5 269.6,258.5 276.5,270.3 283.3,281.7 290.2,292.8 297.0,303.6 303.9,314.1 310.7,324.3 317.6,334.2 318.6,335.6 332.3,354.5 346.0,372.3 359.7,389.2 373.4,405.1 387.1,420.2 400.8,434.4 414.5,447.9 428.2,460.6 441.9,472.5 455.6,483.9 469.3,494.6 483.0,504.7 496.6,514.2 510.3,523.2 524.0,531.7 537.7,539.8 551.4,547.4 565.1,554.6 578.8,561.4 592.5,567.8 606.2,573.8 619.9,579.5 633.6,584.9 647.3,590.0 661.0,594.9 674.7,599.4 688.4,603.7 702.1,607.8 715.8,611.6 729.5,615.2 743.2,618.7 756.9,621.9 770.6,625.0 784.3,627.8 798.0,630.6 811.7,633.1 825.4,635.6 839.1,637.9 852.8,640.0 866.5,642.1 880.2,644.0 893.9,645.9 907.6,647.6 921,649.2"/>
<polyline points="119.7,652.3 126.0,548.5 132.4,445.4 138.7,343.4 145.0,242.7 151.4,143.9 157.7,50.2 160.6,69.0 163.6,87.2 166.5,104.8 169.4,121.9 172.4,138.5 175.3,154.7 178.2,170.3 181.2,185.5 184.1,200.2 187.0,214.4 193.9,246.1 200.7,275.6 207.6,303.0 214.4,328.6 221.3,352.5 228.1,374.7 235.0,395.4 241.8,414.7 248.7,432.6 255.5,449.3 262.4,464.9 269.2,479.4 276.1,493.0 282.9,505.6 289.8,517.3 296.6,528.2 303.5,538.4 304.5,539.8 318.2,558.0 331.9,573.7 345.6,587.4 359.3,599.2 373.0,609.5 386.7,618.5 400.4,626.2 414.1,632.9 427.8,638.8 441.5,643.8 455.2,648.2 468.9,652.0 482.6,655.4 496.3,658.2 510.0,660.7 523.6,662.9 537.3,664.8 551.0,666.4 564.7,667.8 578.4,669.0 592.1,670.1 605.8,671.0 619.5,671.8 633.2,672.5 646.9,673.1 660.6,673.7 674.3,674.1 688.0,674.5 701.7,674.8 715.4,675.1 729.1,675.4 742.8,675.6 756.5,675.8 770.2,676.0 783.9,676.1 797.6,676.3 811.3,676.4 825.0,676.5 838.7,676.6 852.4,676.6 866.1,676.7 879.8,676.7 893.5,676.8 907.2,676.8 921,676.9"/>
<polyline points="119.7,653.4 125.9,551.0 132.1,449.1 138.4,347.7 144.6,247.1 150.8,147.8 157.0,51.5 159.9,64.7 162.9,77.7 165.8,90.3 168.8,102.7 171.7,114.8 174.6,126.7 177.6,138.3 180.5,149.7 183.4,160.8 186.4,171.7 186.4,171.7 193.2,196.3 200.1,219.6 206.9,241.8 213.8,263.0 220.6,283.1 227.5,302.2 234.3,320.4 241.2,337.8 248.0,354.2 254.9,369.9 261.7,384.8 268.6,399.0 275.4,412.5 282.3,425.4 289.1,437.6 296.0,449.2 302.8,460.3 303.8,461.8 317.5,482.2 331.2,500.7 344.9,517.4 358.6,532.6 372.3,546.3 386.0,558.7 399.7,569.9 413.4,580.0 427.1,589.2 440.8,597.6 454.5,605.1 468.2,611.9 481.9,618.1 495.6,623.7 509.3,628.8 523.0,633.3 536.7,637.5 550.4,641.2 564.1,644.6 577.8,647.7 591.5,650.5 605.2,653.0 618.9,655.3 632.6,657.4 646.3,659.2 660.0,660.9 673.7,662.5 687.4,663.9 701.1,665.1 714.8,666.2 728.5,667.3 742.2,668.2 755.9,669.0 769.5,669.8 783.2,670.5 796.9,671.1 810.6,671.7 824.3,672.2 838.0,672.7 851.7,673.1 865.4,673.5 879.1,673.8 892.8,674.1 906.5,674.4 920,674.7"/>
<polyline points="119.7,651.1 127.2,543.2 134.8,437.0 142.3,333.0 149.9,231.6 157.4,134.4 164.9,46.9 167.9,61.8 170.8,76.3 173.7,90.5 176.7,104.3 179.6,117.9 182.5,131.1 185.5,143.9 188.4,156.5 191.3,168.8 194.3,180.8 201.1,207.7 208.0,233.1 214.8,257.2 221.7,279.9 228.5,301.5 235.4,321.8 242.2,341.1 249.1,359.3 255.9,376.5 262.8,392.8 269.6,408.2 276.5,422.8 283.3,436.6 290.2,449.6 297.0,461.9 303.9,473.6 310.7,484.6 311.7,486.1 325.4,506.3 339.1,524.3 352.8,540.4 366.5,554.8 380.2,567.7 393.9,579.2 407.6,589.6 421.3,598.8 435.0,607.0 448.7,614.4 462.4,621.0 476.1,627.0 489.8,632.2 503.5,637.0 517.2,641.2 530.9,645.0 544.6,648.4 558.3,651.4 572.0,654.1 585.7,656.5 599.4,658.7 613.1,660.6 626.8,662.4 640.5,663.9 654.2,665.3 667.9,666.6 681.6,667.7 695.3,668.7 709.0,669.6 722.7,670.4 736.4,671.1 750.1,671.7 763.8,672.3 777.5,672.8 791.2,673.2 804.9,673.6 818.6,674.0 832.3,674.3 846.0,674.6 859.7,674.9 873.4,675.1 887.1,675.3 900.8,675.5 914,675.7"/>
<polyline points="119.7,653.9 124.4,540.6 129.2,430.4 133.9,324.0 138.6,222.4 143.3,127.7 148.1,48.8 151.0,56.4 153.9,64.0 156.9,71.4 159.8,78.8 162.8,86.1 165.7,93.3 168.6,100.4 171.6,107.4 174.5,114.4 177.4,121.2 184.3,136.9 191.1,152.1 198.0,166.9 204.8,181.2 211.7,195.2 218.5,208.8 225.4,222.0 232.2,234.8 239.1,247.3 245.9,259.4 252.8,271.1 259.6,282.6 266.5,293.7 273.3,304.5 280.2,315.0 287.0,325.2 293.9,335.1 294.9,336.5 308.6,355.4 322.2,373.3 335.9,390.2 349.6,406.1 363.3,421.2 377.0,435.4 390.7,448.8 404.4,461.5 418.1,473.5 431.8,484.8 445.5,495.5 459.2,505.6 472.9,515.1 486.6,524.1 500.3,532.6 514.0,540.6 527.7,548.2 541.4,555.4 555.1,562.1 568.8,568.5 582.5,574.5 596.2,580.2 609.9,585.6 623.6,590.7 637.3,595.5 651.0,600.0 664.7,604.3 678.4,608.4 692.1,612.2 705.8,615.8 719.5,619.2 733.2,622.4 746.9,625.4 760.6,628.3 774.3,631.0 788.0,633.6 801.7,636.0 815.4,638.3 829.1,640.4 842.8,642.5 856.5,644.4 870.2,646.2 883.9,647.9 897.6,649.6 911,651.1"/>
<polyline points="119.7,635.4 124.6,537.2 129.5,439.0 134.5,340.9 139.4,242.9 144.3,145.1 149.2,47.6 152.1,57.4 155.1,67.1 158.0,76.6 161.0,85.9 163.9,95.1 166.8,104.1 169.8,113.1 172.7,121.8 175.6,130.5 178.6,139.0 185.4,158.3 192.3,176.9 199.1,194.9 206.0,212.2 212.8,228.9 219.7,245.0 226.5,260.5 233.4,275.5 240.2,289.9 247.1,303.8 253.9,317.2 260.8,330.1 267.6,342.6 274.5,354.6 281.3,366.2 288.2,377.4 295.0,388.1 296.0,389.6 309.7,409.9 323.4,428.8 337.1,446.3 350.8,462.6 364.5,477.7 378.2,491.8 391.9,504.8 405.6,517.0 419.3,528.3 433.0,538.8 446.7,548.5 460.4,557.6 474.1,566.0 487.8,573.9 501.5,581.1 515.2,587.9 528.9,594.2 542.6,600.1 556.3,605.5 570.0,610.5 583.7,615.2 597.4,619.6 611.1,623.7 624.8,627.4 638.5,630.9 652.2,634.2 665.9,637.2 679.6,640.0 693.3,642.6 707.0,645.1 720.7,647.3 734.4,649.4 748.1,651.4 761.8,653.2 775.5,654.9 789.1,656.4 802.8,657.9 816.5,659.3 830.2,660.5 843.9,661.7 857.6,662.8 871.3,663.8 885.0,664.7 898.7,665.6 912,666.4"/>
<polyline points="119.7,646.7 126.0,543.6 132.3,441.2 138.6,339.7 144.9,239.5 151.2,141.1 157.5,47.4 160.4,58.5 163.3,69.3 166.3,80.0 169.2,90.4 172.1,100.7 175.1,110.8 178.0,120.7 180.9,130.5 183.9,140.1 186.8,149.5 193.7,170.8 200.5,191.3 207.4,210.9 214.2,229.8 221.1,247.8 227.9,265.2 234.8,281.8 241.6,297.8 248.5,313.2 255.3,327.9 262.2,342.0 269.0,355.5 275.9,368.5 282.7,381.0 289.6,393.0 296.4,404.5 303.3,415.5 304.2,417.0 317.9,437.6 331.6,456.6 345.3,474.1 359.0,490.1 372.7,504.9 386.4,518.6 400.1,531.1 413.8,542.7 427.5,553.3 441.2,563.1 454.9,572.2 468.6,580.5 482.3,588.1 496.0,595.2 509.7,601.7 523.4,607.6 537.1,613.2 550.8,618.2 564.5,622.9 578.2,627.2 591.9,631.1 605.6,634.8 619.3,638.1 633.0,641.2 646.7,644.1 660.4,646.7 674.1,649.1 687.8,651.3 701.5,653.3 715.2,655.2 728.9,657.0 742.6,658.6 756.3,660.0 770.0,661.4 783.7,662.6 797.4,663.8 811.1,664.8 824.8,665.8 838.5,666.7 852.2,667.5 865.9,668.3 879.6,669.0 893.3,669.6 907.0,670.2 921,670.8"/>
<polyline points="119.7,648.4 127.9,546.4 136.1,444.8 144.4,344.0 152.6,244.0 160.8,145.4 169.0,50.1 172.0,61.2 174.9,72.1 177.9,82.7 180.8,93.2 183.7,103.5 186.7,113.6 189.6,123.6 192.5,133.3 195.5,142.9 198.4,152.3 198.4,152.3 205.3,173.7 212.1,194.1 219.0,213.8 225.8,232.6 232.7,250.7 239.5,268.0 246.4,284.7 253.2,300.6 260.1,315.9 266.9,330.6 273.7,344.7 280.6,358.2 287.4,371.2 294.3,383.6 301.1,395.6 308.0,407.0 314.8,418.0 315.8,419.5 329.5,440.1 343.2,458.9 356.9,476.3 370.6,492.3 384.3,507.0 398.0,520.6 411.7,533.1 425.4,544.5 439.1,555.1 452.8,564.8 466.5,573.8 480.2,582.0 493.9,589.6 507.6,596.5 521.3,603.0 535.0,608.9 548.7,614.3 562.4,619.3 576.1,623.9 589.8,628.2 603.5,632.1 617.2,635.6 630.9,638.9 644.6,642.0 658.3,644.8 672.0,647.4 685.7,649.7 699.4,651.9 713.1,653.9 726.8,655.8 740.5,657.5 754.2,659.0 767.9,660.5 781.6,661.8 795.3,663.0 809.0,664.1 822.7,665.2 836.4,666.1 850.1,667.0 863.8,667.8 877.5,668.5 891.2,669.2 904.9,669.8 919,670.4"/>
<polyline points="119.7,652.2 126.6,543.7 133.6,436.9 140.5,331.9 147.5,229.6 154.4,131.1 161.4,41.8 164.3,50.1 167.2,58.2 170.2,66.2 173.1,74.1 176.0,82.0 179.0,89.7 181.9,97.3 184.8,104.8 187.8,112.3 190.7,119.6 197.6,136.3 204.4,152.5 211.3,168.3 218.1,183.6 225.0,198.4 231.8,212.7 238.7,226.7 245.5,240.2 252.4,253.3 259.2,266.0 266.1,278.4 272.9,290.3 279.8,301.9 286.6,313.2 293.5,324.1 300.3,334.7 307.2,345.0 308.1,346.4 321.8,366.0 335.5,384.4 349.2,401.7 362.9,418.0 376.6,433.3 390.3,447.7 404.0,461.3 417.7,474.0 431.4,486.0 445.1,497.3 458.8,508.0 472.5,518.0 486.2,527.4 499.9,536.2 513.6,544.6 527.3,552.4 541.0,559.8 554.7,566.7 568.4,573.2 582.1,579.4 595.8,585.1 609.5,590.6 623.2,595.7 636.9,600.5 650.6,605.0 664.3,609.3 678.0,613.3 691.7,617.1 705.4,620.6 719.1,624.0 732.8,627.1 746.5,630.1 760.2,632.8 773.9,635.5 787.6,637.9 801.3,640.2 815.0,642.4 828.7,644.5 842.4,646.4 856.1,648.2 869.8,649.9 883.5,651.5 897.2,653.0 911,654.5"/>
<polyline points="119.7,655.8 129.3,547.7 139.0,441.4 148.6,337.1 158.3,235.5 167.9,138.0 177.5,50.2 180.5,58.4 183.4,66.4 186.4,74.4 189.3,82.2 192.2,90.0 195.2,97.6 198.1,105.2 201.0,112.6 204.0,120.0 206.9,127.2 213.8,143.8 220.6,159.9 227.4,175.5 234.3,190.6 241.1,205.2 248.0,219.4 254.8,233.2 261.7,246.6 268.5,259.6 275.4,272.2 282.2,284.4 289.1,296.2 295.9,307.7 302.8,318.8 309.6,329.6 316.5,340.1 323.3,350.2 324.3,351.6 338.0,371.0 351.7,389.1 365.4,406.2 379.1,422.3 392.8,437.4 406.5,451.6 420.2,465.0 433.9,477.6 447.6,489.4 461.3,500.6 475.0,511.1 488.7,520.9 502.4,530.2 516.1,538.9 529.8,547.1 543.5,554.8 557.2,562.1 570.9,568.9 584.6,575.3 598.3,581.4 612.0,587.0 625.7,592.4 639.4,597.4 653.1,602.1 666.8,606.6 680.5,610.8 694.2,614.7 707.9,618.4 721.6,621.9 735.3,625.2 749.0,628.3 762.7,631.2 776.4,633.9 790.1,636.4 803.8,638.9 817.5,641.1 831.2,643.3 844.9,645.3 858.6,647.2 872.3,648.9 886.0,650.6 899.7,652.2 913,653.7"/>
<polyline points="119.7,639.8 128.1,536.2 136.4,433.8 144.8,332.9 153.1,234.0 161.5,138.1 169.9,49.5 172.8,58.1 175.7,66.5 178.7,74.9 181.6,83.1 184.5,91.2 187.5,99.2 190.4,107.0 193.3,114.8 196.3,122.5 199.2,130.0 206.1,147.3 212.9,164.0 219.8,180.2 226.6,195.8 233.5,211.0 240.3,225.7 247.2,239.9 254.0,253.7 260.9,267.0 267.7,280.0 274.6,292.5 281.4,304.6 288.3,316.3 295.1,327.7 302.0,338.7 308.8,349.4 315.7,359.7 316.6,361.2 330.3,380.8 344.0,399.2 357.7,416.4 371.4,432.6 385.1,447.7 398.8,462.0 412.5,475.3 426.2,487.8 439.9,499.6 453.6,510.6 467.3,520.9 481.0,530.6 494.7,539.7 508.4,548.2 522.1,556.2 535.8,563.7 549.5,570.8 563.2,577.4 576.9,583.5 590.6,589.4 604.3,594.8 618.0,599.9 631.7,604.7 645.4,609.2 659.1,613.4 672.8,617.4 686.5,621.1 700.2,624.5 713.9,627.8 727.6,630.9 741.3,633.7 755.0,636.4 768.7,638.9 782.4,641.3 796.1,643.5 809.8,645.6 823.5,647.6 837.2,649.4 850.9,651.1 864.6,652.7 878.3,654.2 892.0,655.7 905.7,657.0 919,658.2"/>
<polyline points="119.7,635.5 126.2,529.3 132.7,425.0 139.2,322.8 145.7,223.5 152.3,128.6 158.8,43.9 161.7,50.5 164.6,57.1 167.6,63.6 170.5,70.0 173.4,76.4 176.4,82.7 179.3,88.9 182.3,95.1 185.2,101.2 188.1,107.2 195.0,121.1 201.8,134.6 208.7,147.8 215.5,160.7 222.4,173.2 229.2,185.5 236.1,197.4 242.9,209.1 249.8,220.4 256.6,231.5 263.5,242.4 270.3,252.9 277.2,263.3 284.0,273.3 290.9,283.1 297.7,292.7 304.6,302.1 305.5,303.4 319.2,321.3 332.9,338.4 346.6,354.7 360.3,370.2 374.0,384.9 387.7,398.9 401.4,412.3 415.1,425.0 428.8,437.1 442.5,448.6 456.2,459.6 469.9,470.1 483.6,480.0 497.3,489.5 511.0,498.5 524.7,507.1 538.4,515.2 552.1,523.0 565.8,530.4 579.5,537.4 593.2,544.1 606.9,550.5 620.6,556.6 634.3,562.4 648.0,567.9 661.7,573.2 675.4,578.1 689.1,582.9 702.8,587.4 716.5,591.7 730.2,595.8 743.9,599.7 757.6,603.4 771.3,607.0 785.0,610.3 798.7,613.6 812.4,616.6 826.1,619.5 839.8,622.3 853.5,624.9 867.2,627.4 880.9,629.8 894.6,632.1 908.3,634.2 922,636.3"/>
<polyline points="119.7,648.3 126.0,547.2 132.2,446.6 138.5,346.6 144.7,247.3 151.0,149.3 157.2,54.2 160.2,72.8 163.1,90.8 166.0,108.3 169.0,125.2 171.9,141.7 174.9,157.6 177.8,173.1 180.7,188.1 183.7,202.7 186.6,216.9 186.6,216.9 193.4,248.2 200.3,277.5 207.1,304.7 214.0,330.1 220.8,353.8 227.7,375.8 234.5,396.4 241.4,415.5 248.2,433.3 255.1,450.0 261.9,465.5 268.8,479.9 275.6,493.3 282.5,505.9 289.3,517.5 296.2,528.4 303.0,538.6 304.0,539.9 317.7,558.0 331.4,573.7 345.1,587.3 358.8,599.1 372.5,609.4 386.2,618.3 399.9,626.1 413.6,632.8 427.3,638.6 441.0,643.7 454.7,648.1 468.4,651.9 482.1,655.2 495.8,658.1 509.5,660.6 523.2,662.8 536.9,664.7 550.6,666.3 564.3,667.7 578.0,669.0 591.7,670.0 605.4,671.0 619.1,671.8 632.8,672.5 646.5,673.1 660.2,673.6 673.9,674.1 687.6,674.5 701.3,674.8 715.0,675.1 728.7,675.4 742.4,675.6 756.1,675.8 769.8,676.0 783.5,676.1 797.2,676.3 810.9,676.4 824.6,676.5 838.3,676.5 852.0,676.6 865.7,676.7 879.4,676.7 893.1,676.8 906.8,676.8 920,676.9"/>
<polyline points="119.7,646.4 126.7,533.0 133.6,423.0 140.6,317.1 147.6,216.4 154.6,123.2 161.5,46.7 164.5,65.8 167.4,84.2 170.3,102.1 173.3,119.5 176.2,136.3 179.2,152.7 182.1,168.5 185.0,183.9 188.0,198.8 190.9,213.2 197.7,245.2 204.6,275.1 211.4,302.8 218.3,328.7 225.1,352.7 232.0,375.1 238.8,396.0 245.7,415.4 252.5,433.4 259.4,450.3 266.2,465.9 273.1,480.5 279.9,494.1 286.8,506.7 293.6,518.5 300.5,529.4 307.3,539.6 308.3,541.0 322.0,559.2 335.7,574.9 349.4,588.5 363.1,600.3 376.8,610.6 390.5,619.4 404.2,627.1 417.9,633.8 431.6,639.6 445.3,644.6 459.0,648.9 472.7,652.7 486.4,655.9 500.1,658.7 513.8,661.2 527.5,663.3 541.2,665.2 554.9,666.7 568.6,668.1 582.3,669.3 596.0,670.4 609.7,671.3 623.4,672.0 637.1,672.7 650.8,673.3 664.5,673.8 678.2,674.2 691.9,674.6 705.6,675.0 719.3,675.2 733.0,675.5 746.7,675.7 760.4,675.9 774.1,676.1 787.8,676.2 801.5,676.3 815.2,676.4 828.9,676.5 842.6,676.6 856.3,676.7 870.0,676.7 883.7,676.8 897.4,676.8 911,676.8"/>
<polyline points="119.7,646.7 126.2,546.1 132.8,445.8 139.3,346.0 145.8,246.6 152.3,148.0 158.9,51.5 161.8,59.1 164.7,66.6 167.7,73.9 170.6,81.2 173.5,88.4 176.5,95.5 179.4,102.5 182.4,109.5 185.3,116.3 188.2,123.1 195.1,138.6 201.9,153.6 208.8,168.2 215.6,182.4 222.5,196.3 229.3,209.7 236.2,222.7 243.0,235.4 249.9,247.8 256.7,259.8 263.6,271.4 270.4,282.8 277.3,293.8 284.1,304.5 291.0,314.9 297.8,325.0 304.7,334.8 305.6,336.2 319.3,355.0 333.0,372.7 346.7,389.5 360.4,405.4 374.1,420.3 387.8,434.5 401.5,447.8 415.2,460.5 428.9,472.4 442.6,483.7 456.3,494.3 470.0,504.4 483.7,513.9 497.4,522.9 511.1,531.4 524.8,539.4 538.5,547.0 552.2,554.2 565.9,561.0 579.6,567.3 593.3,573.4 607.0,579.1 620.7,584.5 634.4,589.6 648.1,594.4 661.8,599.0 675.5,603.3 689.2,607.4 702.9,611.2 716.6,614.8 730.3,618.3 744.0,621.5 757.7,624.6 771.4,627.5 785.1,630.2 798.8,632.8 812.5,635.2 826.2,637.5 839.9,639.7 853.6,641.8 867.3,643.7 881.0,645.5 894.7,647.3 908.4,648.9 922,650.5"/>
<polyline points="119.7,637.7 125.0,538.9 130.2,440.0 135.5,341.2 140.8,242.4 146.0,143.7 151.3,45.0 154.2,52.1 157.2,59.0 160.1,65.8 163.0,72.6 166.0,79.3 168.9,86.0 171.8,92.5 174.8,99.0 177.7,105.4 180.7,111.8 187.5,126.3 194.4,140.4 201.2,154.2 208.1,167.7 214.9,180.8 221.8,193.5 228.6,205.9 235.5,218.0 242.3,229.8 249.1,241.3 256.0,252.5 262.8,263.4 269.7,274.1 276.5,284.4 283.4,294.5 290.2,304.3 297.1,313.9 298.1,315.3 311.8,333.6 325.5,351.0 339.2,367.6 352.9,383.3 366.6,398.2 380.3,412.3 394.0,425.8 407.7,438.5 421.4,450.6 435.1,462.1 448.8,473.0 462.5,483.4 476.2,493.2 489.9,502.5 503.6,511.4 517.3,519.8 531.0,527.8 544.7,535.3 558.4,542.5 572.1,549.4 585.8,555.8 599.5,562.0 613.2,567.8 626.9,573.4 640.5,578.6 654.2,583.6 667.9,588.4 681.6,592.9 695.3,597.1 709.0,601.2 722.7,605.1 736.4,608.7 750.1,612.2 763.8,615.5 777.5,618.6 791.2,621.6 804.9,624.4 818.6,627.1 832.3,629.6 846.0,632.0 859.7,634.3 873.4,636.5 887.1,638.5 900.8,640.5 915,642.3"/>
<polyline points="119.7,659.0 127.0,549.2 134.4,441.3 141.7,335.5 149.0,232.5 156.3,133.8 163.7,45.3 166.6,53.4 169.5,61.5 172.5,69.5 175.4,77.4 178.3,85.1 181.3,92.8 184.2,100.4 187.1,107.9 190.1,115.2 193.0,122.5 193.0,122.5 199.9,139.1 206.7,155.3 213.6,170.9 220.4,186.1 227.3,200.8 234.1,215.1 241.0,228.9 247.8,242.3 254.7,255.4 261.5,268.0 268.4,280.3 275.2,292.2 282.1,303.7 288.9,314.9 295.8,325.7 302.6,336.3 309.5,346.5 310.4,347.9 324.1,367.4 337.8,385.6 351.5,402.9 365.2,419.0 378.9,434.3 392.6,448.6 406.3,462.1 420.0,474.8 433.7,486.7 447.4,498.0 461.1,508.6 474.8,518.5 488.5,527.9 502.2,536.7 515.9,545.0 529.6,552.8 543.3,560.1 557.0,567.0 570.7,573.5 584.4,579.6 598.1,585.4 611.8,590.8 625.5,595.9 639.2,600.7 652.9,605.2 666.6,609.5 680.3,613.4 694.0,617.2 707.7,620.7 721.4,624.1 735.1,627.2 748.8,630.1 762.5,632.9 776.2,635.5 789.9,638.0 803.6,640.3 817.3,642.5 831.0,644.5 844.7,646.4 858.4,648.2 872.1,649.9 885.8,651.6 899.5,653.1 913,654.5"/>
<polyline points="119.7,658.4 131.5,556.1 143.3,453.9 155.2,351.9 167.0,250.2 178.8,148.8 190.6,48.4 193.6,54.4 196.5,60.4 199.4,66.3 202.4,72.2 205.3,78.0 208.3,83.7 211.2,89.4 214.1,95.1 217.1,100.6 220.0,106.2 226.8,118.9 233.7,131.3 240.5,143.5 247.4,155.3 254.2,167.0 261.1,178.3 267.9,189.4 274.8,200.3 281.6,210.9 288.5,221.3 295.3,231.4 302.2,241.3 309.0,251.0 315.9,260.5 322.7,269.8 329.6,278.9 336.4,287.7 337.4,289.0 351.1,306.1 364.8,322.4 378.5,338.0 392.2,352.9 405.9,367.2 419.6,380.9 433.3,393.9 447.0,406.4 460.7,418.3 474.4,429.7 488.1,440.6 501.8,451.0 515.5,460.9 529.2,470.5 542.9,479.5 556.6,488.2 570.3,496.6 584.0,504.5 597.7,512.1 611.4,519.4 625.1,526.3 638.8,533.0 652.5,539.3 666.2,545.4 679.9,551.2 693.6,556.7 707.3,562.0 721.0,567.1 734.7,571.9 748.4,576.6 762.1,581.0 775.8,585.2 789.5,589.3 803.2,593.1 816.9,596.8 830.6,600.4 844.3,603.7 858.0,607.0 871.7,610.0 885.4,613.0 899.1,615.8 913,618.5"/>
<polyline points="119.7,654.3 126.8,544.6 134.0,436.7 141.1,331.0 148.3,228.1 155.4,129.5 162.6,41.0 165.5,50.4 168.4,59.6 171.4,68.7 174.3,77.6 177.3,86.4 180.2,95.1 183.1,103.7 186.1,112.1 189.0,120.4 191.9,128.6 191.9,128.6 198.8,147.3 205.6,165.3 212.5,182.6 219.3,199.4 226.2,215.7 233.0,231.4 239.9,246.5 246.7,261.1 253.6,275.3 260.4,288.9 267.3,302.1 274.1,314.8 281.0,327.2 287.8,339.0 294.7,350.5 301.5,361.6 308.4,372.3 309.3,373.8 323.0,394.1 336.7,413.0 350.4,430.7 364.1,447.1 377.8,462.5 391.5,476.8 405.2,490.2 418.9,502.7 432.6,514.3 446.3,525.2 460.0,535.3 473.7,544.8 487.4,553.7 501.1,561.9 514.8,569.6 528.5,576.8 542.2,583.5 555.9,589.7 569.6,595.6 583.3,601.0 597.0,606.1 610.7,610.8 624.4,615.3 638.1,619.4 651.8,623.3 665.5,626.8 679.2,630.2 692.9,633.3 706.6,636.3 720.3,639.0 734.0,641.5 747.7,643.9 761.4,646.1 775.1,648.2 788.8,650.1 802.5,651.9 816.2,653.6 829.9,655.2 843.6,656.6 857.3,658.0 871.0,659.3 884.7,660.5 898.4,661.6 912,662.6"/>
<polyline points="119.7,639.6 125.4,534.8 131.1,431.5 136.8,329.9 142.6,230.6 148.3,134.9 154.0,47.5 156.9,54.6 159.9,61.5 162.8,68.4 165.7,75.2 168.7,82.0 171.6,88.6 174.5,95.2 177.5,101.7 180.4,108.2 183.3,114.5 190.2,129.1 197.0,143.3 203.9,157.1 210.7,170.6 217.6,183.7 224.4,196.5 231.3,209.0 238.1,221.1 245.0,232.9 251.8,244.4 258.7,255.7 265.5,266.6 272.4,277.2 279.2,287.6 286.1,297.7 292.9,307.5 299.8,317.1 300.8,318.4 314.5,336.8 328.2,354.2 341.9,370.7 355.6,386.4 369.2,401.3 382.9,415.4 396.6,428.8 410.3,441.5 424.0,453.5 437.7,465.0 451.4,475.8 465.1,486.1 478.8,495.9 492.5,505.2 506.2,514.0 519.9,522.3 533.6,530.2 547.3,537.7 561.0,544.9 574.7,551.6 588.4,558.1 602.1,564.1 615.8,569.9 629.5,575.4 643.2,580.6 656.9,585.5 670.6,590.2 684.3,594.7 698.0,598.9 711.7,602.9 725.4,606.7 739.1,610.3 752.8,613.7 766.5,617.0 780.2,620.0 793.9,623.0 807.6,625.7 821.3,628.3 835.0,630.8 848.7,633.2 862.4,635.5 876.1,637.6 889.8,639.6 903.5,641.5 917,643.3"/>
<polyline points="119.7,656.3 125.4,549.8 131.1,444.7 136.8,341.2 142.5,239.7 148.2,141.4 153.8,50.9 156.8,64.8 159.7,78.4 162.6,91.8 165.6,104.8 168.5,117.5 171.5,129.9 174.4,142.1 177.3,154.0 180.3,165.6 183.2,177.0 190.0,202.6 196.9,226.8 203.7,249.8 210.6,271.7 217.4,292.4 224.3,312.0 231.1,330.7 238.0,348.4 244.8,365.2 251.7,381.1 258.5,396.3 265.4,410.6 272.2,424.2 279.1,437.2 285.9,449.4 292.8,461.1 299.6,472.1 300.6,473.6 314.3,493.9 328.0,512.2 341.7,528.6 355.4,543.4 369.1,556.7 382.8,568.7 396.5,579.5 410.2,589.2 423.9,598.0 437.6,605.8 451.3,612.9 465.0,619.3 478.7,625.1 492.4,630.3 506.1,634.9 519.8,639.1 533.5,642.9 547.2,646.3 560.9,649.4 574.6,652.1 588.3,654.6 602.0,656.9 615.7,658.9 629.4,660.7 643.1,662.3 656.8,663.8 670.5,665.1 684.2,666.3 697.9,667.4 711.6,668.4 725.3,669.2 739.0,670.0 752.7,670.7 766.4,671.4 780.1,671.9 793.8,672.4 807.5,672.9 821.2,673.3 834.9,673.7 848.6,674.0 862.3,674.3 876.0,674.6 889.7,674.9 903.4,675.1 917,675.3"/>
<polyline points="119.7,653.8 127.4,543.5 135.1,435.5 142.7,330.4 150.4,229.0 158.1,133.1 165.8,50.0 168.7,56.6 171.7,63.1 174.6,69.5 177.5,75.9 180.5,82.2 183.4,88.4 186.3,94.6 189.3,100.7 192.2,106.7 195.1,112.7 202.0,126.4 208.8,139.8 215.7,152.8 222.5,165.5 229.4,178.0 236.2,190.1 243.1,201.9 249.9,213.4 256.8,224.7 263.6,235.7 270.5,246.4 277.3,256.9 284.2,267.1 291.0,277.0 297.9,286.7 304.7,296.2 311.6,305.5 312.6,306.8 326.3,324.5 340.0,341.4 353.7,357.5 367.4,372.9 381.1,387.5 394.8,401.4 408.5,414.6 422.2,427.2 435.9,439.2 449.6,450.6 463.3,461.5 477.0,471.8 490.7,481.6 504.4,491.0 518.1,500.0 531.8,508.4 545.4,516.5 559.1,524.2 572.8,531.6 586.5,538.6 600.2,545.2 613.9,551.5 627.6,557.6 641.3,563.3 655.0,568.7 668.7,573.9 682.4,578.9 696.1,583.6 709.8,588.1 723.5,592.4 737.2,596.4 750.9,600.3 764.6,604.0 778.3,607.5 792.0,610.8 805.7,614.0 819.4,617.0 833.1,619.9 846.8,622.7 860.5,625.3 874.2,627.8 887.9,630.1 901.6,632.4 915,634.5"/>
<polyline points="119.7,638.6 129.7,535.1 139.6,432.6 149.6,331.5 159.6,232.2 169.5,135.7 179.5,46.0 182.4,54.3 185.4,62.4 188.3,70.5 191.2,78.5 194.2,86.4 197.1,94.1 200.0,101.8 203.0,109.3 205.9,116.8 208.8,124.2 215.7,141.0 222.5,157.3 229.4,173.1 236.2,188.4 243.1,203.3 249.9,217.7 256.8,231.6 263.6,245.2 270.5,258.3 277.3,271.0 284.2,283.4 291.0,295.3 297.9,307.0 304.7,318.2 311.6,329.1 318.4,339.7 325.3,349.9 326.3,351.4 340.0,370.9 353.7,389.2 367.4,406.5 381.1,422.7 394.8,437.9 408.5,452.2 422.2,465.7 435.9,478.3 449.6,490.2 463.3,501.4 477.0,511.9 490.7,521.8 504.4,531.1 518.1,539.9 531.8,548.1 545.5,555.8 559.1,563.1 572.8,569.9 586.5,576.3 600.2,582.4 613.9,588.0 627.6,593.4 641.3,598.4 655.0,603.1 668.7,607.5 682.4,611.7 696.1,615.6 709.8,619.3 723.5,622.7 737.2,626.0 750.9,629.1 764.6,631.9 778.3,634.6 792.0,637.2 805.7,639.6 819.4,641.8 833.1,643.9 846.8,645.9 860.5,647.8 874.2,649.5 887.9,651.2 901.6,652.7 915,654.2"/>
<polyline points="119.7,646.8 125.2,538.2 130.6,431.6 136.1,327.5 141.6,226.6 147.0,130.4 152.5,45.4 155.4,57.6 158.3,69.7 161.3,81.4 164.2,93.0 167.2,104.3 170.1,115.4 173.0,126.3 176.0,137.0 178.9,147.5 181.8,157.8 188.7,181.0 195.5,203.1 202.4,224.3 209.2,244.6 216.1,263.9 222.9,282.3 229.8,300.0 236.6,316.8 243.5,332.9 250.3,348.3 257.2,363.0 264.0,377.0 270.9,390.4 277.7,403.3 284.6,415.5 291.4,427.2 298.3,438.3 299.3,439.9 313.0,460.6 326.7,479.5 340.3,496.8 354.0,512.6 367.7,526.9 381.4,540.1 395.1,552.0 408.8,563.0 422.5,572.9 436.2,582.0 449.9,590.3 463.6,597.9 477.3,604.8 491.0,611.1 504.7,616.9 518.4,622.2 532.1,627.0 545.8,631.3 559.5,635.3 573.2,639.0 586.9,642.3 600.6,645.4 614.3,648.1 628.0,650.7 641.7,653.0 655.4,655.1 669.1,657.0 682.8,658.8 696.5,660.4 710.2,661.8 723.9,663.2 737.6,664.4 751.3,665.5 765.0,666.5 778.7,667.4 792.4,668.3 806.1,669.0 819.8,669.7 833.5,670.4 847.2,671.0 860.9,671.5 874.6,672.0 888.3,672.4 902.0,672.9 916,673.2"/>
<polyline points="119.7,648.5 126.5,542.4 133.2,437.7 140.0,334.8 146.7,234.2 153.5,137.0 160.2,48.3 163.2,56.1 166.1,63.8 169.0,71.4 172.0,78.9 174.9,86.3 177.8,93.6 180.8,100.8 183.7,108.0 186.6,115.0 189.6,122.0 189.6,122.0 196.4,137.9 203.3,153.4 210.1,168.4 217.0,183.0 223.8,197.1 230.7,210.9 237.5,224.2 244.4,237.2 251.2,249.8 258.1,262.1 264.9,274.0 271.8,285.5 278.6,296.8 285.5,307.7 292.3,318.3 299.2,328.5 306.0,338.5 307.0,339.9 320.7,359.0 334.4,377.0 348.1,393.9 361.8,409.9 375.5,425.0 389.2,439.3 402.9,452.7 416.6,465.4 430.3,477.4 444.0,488.7 457.7,499.3 471.4,509.4 485.1,518.8 498.8,527.8 512.5,536.2 526.2,544.2 539.9,551.7 553.6,558.8 567.3,565.5 581.0,571.8 594.7,577.7 608.4,583.3 622.1,588.6 635.8,593.6 649.5,598.4 663.2,602.8 676.9,607.0 690.6,611.0 704.3,614.7 718.0,618.2 731.7,621.6 745.4,624.7 759.1,627.7 772.8,630.5 786.5,633.1 800.2,635.6 813.9,637.9 827.6,640.1 841.3,642.2 855.0,644.2 868.7,646.1 882.4,647.8 896.1,649.5 909.7,651.0 923,652.5"/>
<polyline points="119.7,647.6 127.0,543.1 134.3,439.7 141.7,337.7 149.0,237.5 156.3,140.1 163.6,49.7 166.6,68.2 169.5,86.2 172.4,103.7 175.4,120.7 178.3,137.1 181.2,153.1 184.2,168.6 187.1,183.7 190.0,198.3 193.0,212.4 199.8,243.9 206.7,273.2 213.5,300.5 220.4,326.0 227.2,349.8 234.1,371.9 240.9,392.6 247.8,411.8 254.6,429.8 261.5,446.5 268.3,462.1 275.2,476.7 282.0,490.2 288.9,502.9 295.7,514.7 302.6,525.7 309.4,535.9 310.4,537.3 324.1,555.6 337.8,571.5 351.5,585.3 365.2,597.3 378.9,607.7 392.6,616.8 406.3,624.7 420.0,631.5 433.7,637.5 447.4,642.7 461.1,647.2 474.8,651.1 488.5,654.5 502.2,657.4 515.9,660.0 529.6,662.3 543.3,664.2 557.0,665.9 570.7,667.3 584.4,668.6 598.1,669.7 611.8,670.7 625.5,671.5 639.2,672.3 652.9,672.9 666.6,673.4 680.3,673.9 694.0,674.3 707.7,674.7 721.4,675.0 735.1,675.3 748.8,675.5 762.5,675.7 776.2,675.9 789.9,676.1 803.6,676.2 817.3,676.3 831.0,676.4 844.7,676.5 858.4,676.6 872.1,676.7 885.8,676.7 899.4,676.8 913,676.8"/>
<polyline points="119.7,647.3 126.6,536.8 133.6,428.6 140.5,323.1 147.4,221.2 154.3,124.5 161.3,40.1 164.2,52.0 167.1,63.6 170.1,75.0 173.0,86.2 175.9,97.2 178.9,108.0 181.8,118.6 184.7,129.0 187.7,139.2 190.6,149.2 197.5,171.8 204.3,193.5 211.2,214.2 218.0,234.0 224.9,253.0 231.7,271.2 238.6,288.6 245.4,305.3 252.3,321.2 259.1,336.5 266.0,351.1 272.8,365.0 279.7,378.4 286.5,391.2 293.3,403.5 300.2,415.2 307.0,426.4 308.0,428.0 321.7,448.9 335.4,468.0 349.1,485.6 362.8,501.6 376.5,516.4 390.2,529.8 403.9,542.2 417.6,553.5 431.3,563.9 445.0,573.4 458.7,582.1 472.4,590.1 486.1,597.4 499.8,604.0 513.5,610.2 527.2,615.8 540.9,620.9 554.6,625.6 568.3,630.0 582.0,633.9 595.7,637.5 609.4,640.9 623.1,643.9 636.8,646.7 650.5,649.2 664.2,651.6 677.9,653.7 691.6,655.7 705.3,657.5 719.0,659.1 732.7,660.6 746.4,662.0 760.1,663.3 773.8,664.4 787.5,665.5 801.2,666.5 814.9,667.4 828.6,668.2 842.3,668.9 856.0,669.6 869.7,670.2 883.4,670.8 897.1,671.3 911,671.8"/>
<polyline points="119.7,659.7 125.2,550.9 130.7,443.7 136.1,338.4 141.6,235.7 147.1,136.9 152.6,47.5 155.5,59.5 158.5,71.2 161.4,82.7 164.3,94.0 167.3,105.1 170.2,116.0 173.1,126.7 176.1,137.1 179.0,147.4 181.9,157.5 188.8,180.2 195.6,202.0 202.5,222.8 209.3,242.7 216.2,261.8 223.0,280.0 229.9,297.4 236.7,314.0 243.6,329.9 250.4,345.1 257.3,359.7 264.1,373.6 271.0,386.9 277.8,399.6 284.7,411.7 291.5,423.4 298.4,434.5 299.4,436.0 313.1,456.7 326.8,475.6 340.5,492.9 354.2,508.6 367.9,523.1 381.6,536.3 395.3,548.4 409.0,559.4 422.7,569.5 436.4,578.7 450.1,587.1 463.8,594.8 477.5,601.9 491.2,608.3 504.8,614.2 518.5,619.6 532.2,624.5 545.9,629.1 559.6,633.2 573.3,636.9 587.0,640.4 600.7,643.5 614.4,646.4 628.1,649.0 641.8,651.4 655.5,653.6 669.2,655.6 682.9,657.5 696.6,659.2 710.3,660.7 724.0,662.1 737.7,663.4 751.4,664.6 765.1,665.6 778.8,666.6 792.5,667.5 806.2,668.3 819.9,669.1 833.6,669.8 847.3,670.4 861.0,671.0 874.7,671.5 888.4,672.0 902.1,672.4 916,672.8"/>
<polyline points="119.7,639.0 128.7,529.4 137.7,422.2 146.6,318.1 155.6,218.0 164.6,123.7 173.6,42.8 176.5,58.6 179.5,74.0 182.4,89.0 185.3,103.6 188.3,117.9 191.2,131.8 194.1,145.4 197.1,158.6 200.0,171.6 202.9,184.1 202.9,184.1 209.8,212.3 216.6,238.9 223.5,263.9 230.3,287.5 237.2,309.8 244.0,330.8 250.9,350.6 257.7,369.2 264.6,386.8 271.4,403.4 278.3,419.0 285.1,433.8 292.0,447.7 298.8,460.8 305.7,473.2 312.5,484.8 319.4,495.8 320.4,497.3 334.1,517.3 347.8,535.0 361.5,550.8 375.2,564.8 388.9,577.3 402.6,588.4 416.3,598.2 430.0,607.0 443.7,614.8 457.4,621.7 471.1,627.8 484.8,633.3 498.5,638.2 512.2,642.5 525.8,646.3 539.5,649.7 553.2,652.8 566.9,655.5 580.6,657.9 594.3,660.0 608.0,661.9 621.7,663.6 635.4,665.1 649.1,666.4 662.8,667.6 676.5,668.7 690.2,669.6 703.9,670.4 717.6,671.2 731.3,671.8 745.0,672.4 758.7,672.9 772.4,673.4 786.1,673.8 799.8,674.2 813.5,674.5 827.2,674.8 840.9,675.0 854.6,675.3 868.3,675.5 882.0,675.7 895.7,675.8 909.4,676.0 923,676.1"/>
<polyline points="119.7,639.5 124.4,531.8 129.2,426.3 133.9,323.6 138.6,224.3 143.3,130.4 148.1,48.5 151.0,56.1 153.9,63.7 156.9,71.1 159.8,78.5 162.8,85.8 165.7,92.9 168.6,100.0 171.6,107.0 174.5,114.0 177.4,120.8 184.3,136.4 191.1,151.6 198.0,166.4 204.8,180.8 211.7,194.7 218.5,208.3 225.4,221.4 232.2,234.3 239.1,246.7 245.9,258.8 252.8,270.6 259.6,282.0 266.5,293.1 273.3,303.9 280.2,314.4 287.0,324.6 293.9,334.5 294.9,335.9 308.6,354.8 322.2,372.6 335.9,389.5 349.6,405.5 363.3,420.5 377.0,434.7 390.7,448.2 404.4,460.9 418.1,472.8 431.8,484.2 445.5,494.9 459.2,505.0 472.9,514.5 486.6,523.5 500.3,532.0 514.0,540.1 527.7,547.7 541.4,554.8 555.1,561.6 568.8,568.0 582.5,574.1 596.2,579.8 609.9,585.2 623.6,590.3 637.3,595.1 651.0,599.6 664.7,603.9 678.4,608.0 692.1,611.8 705.8,615.4 719.5,618.8 733.2,622.1 746.9,625.1 760.6,628.0 774.3,630.7 788.0,633.3 801.7,635.7 815.4,638.0 829.1,640.2 842.8,642.2 856.5,644.2 870.2,646.0 883.9,647.7 897.6,649.3 911,650.9"/>
<polyline points="119.7,636.9 128.2,527.0 136.8,420.4 145.3,317.8 153.8,220.2 162.4,130.0 170.9,56.0 173.8,64.8 176.8,73.4 179.7,82.0 182.6,90.4 185.6,98.7 188.5,106.9 191.4,115.0 194.4,122.9 197.3,130.8 200.2,138.5 207.1,156.1 213.9,173.2 220.8,189.7 227.6,205.6 234.5,221.0 241.3,236.0 248.2,250.4 255.0,264.4 261.9,277.9 268.7,290.9 275.6,303.6 282.4,315.8 289.3,327.6 296.1,339.0 303.0,350.1 309.8,360.8 316.7,371.1 317.7,372.6 331.4,392.2 345.1,410.5 358.8,427.7 372.5,443.8 386.2,458.8 399.9,472.8 413.6,486.0 427.3,498.3 441.0,509.8 454.7,520.6 468.3,530.6 482.0,540.1 495.7,548.9 509.4,557.1 523.1,564.9 536.8,572.1 550.5,578.8 564.2,585.2 577.9,591.1 591.6,596.6 605.3,601.8 619.0,606.6 632.7,611.2 646.4,615.4 660.1,619.4 673.8,623.1 687.5,626.6 701.2,629.8 714.9,632.9 728.6,635.7 742.3,638.4 756.0,640.9 769.7,643.2 783.4,645.4 797.1,647.4 810.8,649.3 824.5,651.1 838.2,652.8 851.9,654.4 865.6,655.8 879.3,657.2 893.0,658.5 906.7,659.7 920,660.8"/>
<polyline points="119.7,654.0 125.8,540.8 131.9,430.4 138.0,323.5 144.2,220.9 150.3,124.8 156.4,43.4 159.3,51.9 162.2,60.3 165.2,68.5 168.1,76.7 171.1,84.7 174.0,92.7 176.9,100.5 179.9,108.2 182.8,115.9 185.7,123.4 192.6,140.6 199.4,157.2 206.3,173.3 213.1,189.0 220.0,204.1 226.8,218.8 233.7,233.0 240.5,246.7 247.4,260.1 254.2,273.0 261.1,285.5 267.9,297.7 274.8,309.5 281.6,320.9 288.5,331.9 295.3,342.6 302.2,353.0 303.2,354.4 316.8,374.1 330.5,392.6 344.2,410.0 357.9,426.3 371.6,441.6 385.3,456.0 399.0,469.5 412.7,482.2 426.4,494.1 440.1,505.3 453.8,515.7 467.5,525.6 481.2,534.8 494.9,543.5 508.6,551.7 522.3,559.3 536.0,566.5 549.7,573.3 563.4,579.6 577.1,585.6 590.8,591.2 604.5,596.4 618.2,601.3 631.9,606.0 645.6,610.3 659.3,614.4 673.0,618.2 686.7,621.8 700.4,625.2 714.1,628.4 727.8,631.3 741.5,634.1 755.2,636.8 768.9,639.2 782.6,641.5 796.3,643.7 810.0,645.7 823.7,647.7 837.4,649.5 851.1,651.1 864.8,652.7 878.5,654.2 892.2,655.6 905.9,656.9 920,658.2"/>
<polyline points="119.7,638.3 124.6,539.8 129.5,441.5 134.4,343.3 139.3,245.2 144.2,147.3 149.1,50.2 152.0,72.4 154.9,93.8 157.9,114.4 160.8,134.4 163.7,153.6 166.7,172.1 169.6,190.0 172.5,207.3 175.5,223.9 178.4,240.0 185.3,275.3 192.1,307.7 199.0,337.5 205.8,364.9 212.7,390.1 219.5,413.3 226.4,434.6 233.2,454.1 240.1,472.1 246.9,488.7 253.8,503.9 260.6,517.9 267.5,530.7 274.3,542.5 281.2,553.4 288.0,563.4 294.9,572.6 295.8,573.8 309.5,589.8 323.2,603.3 336.9,614.8 350.6,624.4 364.3,632.6 378.0,639.5 391.7,645.3 405.4,650.2 419.1,654.4 432.8,657.9 446.5,660.9 460.2,663.4 473.9,665.5 487.6,667.3 501.3,668.8 515.0,670.1 528.7,671.2 542.4,672.1 556.1,672.9 569.8,673.5 583.5,674.1 597.2,674.6 610.9,674.9 624.6,675.3 638.3,675.6 652.0,675.8 665.7,676.0 679.4,676.2 693.1,676.3 706.8,676.4 720.5,676.5 734.2,676.6 747.9,676.7 761.6,676.8 775.3,676.8 789.0,676.9 802.7,676.9 816.4,676.9 830.1,677.0 843.8,677.0 857.5,677.0 871.2,677.0 884.9,677.0 898.6,677.0 912,677.0"/>
<polyline points="119.7,659.0 125.8,555.5 131.9,452.4 137.9,349.7 144.0,247.7 150.1,146.8 156.2,48.4 159.1,61.4 162.0,74.1 165.0,86.5 167.9,98.7 170.8,110.6 173.8,122.3 176.7,133.8 179.6,145.0 182.6,155.9 185.5,166.7 192.4,190.9 199.2,214.0 206.1,236.0 212.9,256.9 219.8,276.9 226.6,295.9 233.5,314.0 240.3,331.2 247.2,347.6 254.0,363.3 260.9,378.2 267.7,392.4 274.6,405.9 281.4,418.8 288.3,431.0 295.1,442.7 302.0,453.8 302.9,455.4 316.6,475.9 330.3,494.6 344.0,511.5 357.7,526.8 371.4,540.8 385.1,553.4 398.8,564.9 412.5,575.3 426.2,584.7 439.9,593.3 453.6,601.0 467.3,608.1 481.0,614.5 494.7,620.3 508.4,625.6 522.1,630.3 535.8,634.7 549.5,638.6 563.2,642.2 576.9,645.4 590.6,648.3 604.3,651.0 618.0,653.4 631.7,655.6 645.4,657.6 659.1,659.4 672.8,661.1 686.5,662.5 700.2,663.9 713.9,665.1 727.6,666.2 741.3,667.2 755.0,668.2 768.7,669.0 782.4,669.7 796.1,670.4 809.8,671.0 823.5,671.6 837.2,672.1 850.9,672.6 864.6,673.0 878.3,673.4 892.0,673.7 905.7,674.0 919,674.3"/>
<polyline points="119.7,647.5 124.6,539.5 129.5,433.4 134.4,329.7 139.2,229.1 144.1,133.1 149.0,48.1 151.9,61.4 154.9,74.4 157.8,87.2 160.8,99.6 163.7,111.9 166.6,123.8 169.6,135.5 172.5,147.0 175.4,158.2 178.4,169.2 185.2,193.9 192.1,217.5 198.9,239.8 205.8,261.1 212.6,281.4 219.5,300.6 226.3,319.0 233.2,336.4 240.0,353.0 246.9,368.8 253.7,383.8 260.6,398.1 267.4,411.7 274.3,424.6 281.1,436.9 288.0,448.6 294.8,459.7 295.8,461.2 309.5,481.7 323.2,500.3 336.9,517.1 350.6,532.3 364.3,546.1 378.0,558.5 391.7,569.8 405.4,580.0 419.1,589.2 432.8,597.6 446.5,605.1 460.2,611.9 473.9,618.1 487.6,623.7 501.3,628.8 515.0,633.4 528.7,637.5 542.4,641.3 556.1,644.7 569.8,647.8 583.5,650.6 597.2,653.1 610.9,655.4 624.6,657.4 638.3,659.3 652.0,661.0 665.7,662.5 679.4,663.9 693.1,665.2 706.8,666.3 720.5,667.3 734.2,668.3 747.9,669.1 761.6,669.9 775.3,670.5 789.0,671.2 802.6,671.7 816.3,672.2 830.0,672.7 843.7,673.1 857.4,673.5 871.1,673.8 884.8,674.1 898.5,674.4 912,674.7"/>
<polyline points="119.7,656.8 125.6,551.4 131.5,446.9 137.4,343.4 143.3,241.2 149.2,141.1 155.1,46.0 158.0,61.7 161.0,77.0 163.9,91.9 166.8,106.5 169.8,120.7 172.7,134.5 175.6,148.0 178.6,161.2 181.5,174.0 184.4,186.6 191.3,214.6 198.1,241.0 205.0,265.9 211.8,289.3 218.7,311.5 225.5,332.4 232.4,352.0 239.2,370.6 246.1,388.1 252.9,404.6 259.8,420.1 266.6,434.8 273.5,448.6 280.3,461.7 287.2,474.0 294.0,485.6 300.9,496.5 301.9,498.0 315.6,517.9 329.3,535.6 343.0,551.3 356.7,565.2 370.4,577.6 384.1,588.7 397.8,598.5 411.5,607.2 425.2,614.9 438.9,621.8 452.5,628.0 466.2,633.4 479.9,638.3 493.6,642.6 507.3,646.4 521.0,649.8 534.7,652.8 548.4,655.5 562.1,657.9 575.8,660.0 589.5,661.9 603.2,663.6 616.9,665.1 630.6,666.4 644.3,667.6 658.0,668.7 671.7,669.6 685.4,670.4 699.1,671.2 712.8,671.8 726.5,672.4 740.2,672.9 753.9,673.4 767.6,673.8 781.3,674.2 795.0,674.5 808.7,674.8 822.4,675.0 836.1,675.3 849.8,675.5 863.5,675.7 877.2,675.8 890.9,676.0 904.6,676.1 918,676.2"/>
<polyline points="119.7,649.7 125.4,548.7 131.2,447.8 136.9,347.0 142.6,246.2 148.3,145.5 154.1,45.2 157.0,54.0 159.9,62.7 162.9,71.2 165.8,79.7 168.7,88.0 171.7,96.2 174.6,104.3 177.5,112.3 180.5,120.1 183.4,127.9 190.3,145.6 197.1,162.7 204.0,179.2 210.8,195.3 217.7,210.8 224.5,225.8 231.4,240.3 238.2,254.4 245.1,268.0 251.9,281.1 258.8,293.9 265.6,306.2 272.5,318.2 279.3,329.7 286.2,340.9 293.0,351.7 299.9,362.2 300.8,363.7 314.5,383.5 328.2,402.1 341.9,419.5 355.6,435.9 369.3,451.1 383.0,465.4 396.7,478.9 410.4,491.4 424.1,503.2 437.8,514.2 451.5,524.5 465.2,534.2 478.9,543.2 492.6,551.7 506.3,559.7 520.0,567.1 533.7,574.1 547.4,580.6 561.1,586.7 574.8,592.4 588.5,597.8 602.2,602.8 615.9,607.5 629.6,611.9 643.3,616.1 657.0,619.9 670.7,623.5 684.4,626.9 698.1,630.1 711.8,633.1 725.5,635.9 739.2,638.5 752.9,640.9 766.6,643.2 780.3,645.4 794.0,647.4 807.7,649.3 821.4,651.0 835.1,652.7 848.8,654.2 862.5,655.7 876.2,657.0 889.9,658.3 903.6,659.5 917,660.6"/>
<polyline points="119.7,647.5 127.1,545.7 134.5,444.2 141.8,343.2 149.2,242.6 156.6,142.9 164.0,45.3 166.9,55.0 169.8,64.5 172.8,73.9 175.7,83.1 178.7,92.2 181.6,101.2 184.5,110.0 187.5,118.7 190.4,127.2 193.3,135.6 200.2,154.8 207.0,173.3 213.9,191.1 220.7,208.3 227.6,224.8 234.4,240.8 241.3,256.2 248.1,271.1 255.0,285.5 261.8,299.3 268.7,312.7 275.5,325.6 282.4,338.0 289.2,350.0 296.1,361.6 302.9,372.7 309.8,383.5 310.8,385.0 324.5,405.3 338.2,424.2 351.8,441.7 365.5,458.1 379.2,473.3 392.9,487.4 406.6,500.6 420.3,512.9 434.0,524.3 447.7,534.9 461.4,544.8 475.1,554.0 488.8,562.5 502.5,570.5 516.2,577.9 529.9,584.8 543.6,591.2 557.3,597.2 571.0,602.7 584.7,607.9 598.4,612.7 612.1,617.2 625.8,621.3 639.5,625.2 653.2,628.8 666.9,632.2 680.6,635.3 694.3,638.2 708.0,640.9 721.7,643.4 735.4,645.7 749.1,647.9 762.8,650.0 776.5,651.8 790.2,653.6 803.9,655.2 817.6,656.7 831.3,658.2 845.0,659.5 858.7,660.7 872.4,661.8 886.1,662.9 899.8,663.9 914,664.8"/>
<polyline points="119.7,655.5 129.8,547.2 139.9,440.6 149.9,336.1 160.0,234.1 170.1,136.2 180.2,47.7 183.1,55.3 186.1,62.8 189.0,70.3 191.9,77.6 194.9,84.8 197.8,92.0 200.7,99.1 203.7,106.1 206.6,113.0 209.6,119.8 216.4,135.4 223.3,150.5 230.1,165.2 237.0,179.6 243.8,193.5 250.6,207.0 257.5,220.2 264.3,232.9 271.2,245.4 278.0,257.4 284.9,269.2 291.7,280.6 298.6,291.7 305.4,302.5 312.3,312.9 319.1,323.1 326.0,333.0 327.0,334.4 340.7,353.3 354.4,371.2 368.1,388.1 381.8,404.0 395.5,419.1 409.2,433.3 422.9,446.7 436.6,459.5 450.3,471.5 464.0,482.8 477.7,493.5 491.4,503.6 505.1,513.2 518.8,522.3 532.5,530.8 546.2,538.9 559.9,546.5 573.6,553.7 587.3,560.5 601.0,566.9 614.7,573.0 628.4,578.8 642.0,584.2 655.7,589.3 669.4,594.1 683.1,598.7 696.8,603.0 710.5,607.1 724.2,611.0 737.9,614.6 751.6,618.1 765.3,621.3 779.0,624.4 792.7,627.3 806.4,630.1 820.1,632.7 833.8,635.1 847.5,637.4 861.2,639.6 874.9,641.7 888.6,643.6 902.3,645.5 916,647.2"/>
<polyline points="119.7,646.6 128.9,537.1 138.2,430.1 147.4,326.2 156.6,226.3 165.8,132.4 175.1,52.1 178.0,63.4 180.9,74.5 183.9,85.4 186.8,96.1 189.8,106.6 192.7,117.0 195.6,127.1 198.6,137.1 201.5,146.8 204.4,156.4 204.4,156.4 211.3,178.2 218.1,199.0 225.0,218.9 231.8,238.1 238.7,256.4 245.5,273.9 252.4,290.8 259.2,306.9 266.1,322.3 272.9,337.1 279.8,351.3 286.6,364.9 293.5,377.9 300.3,390.4 307.2,402.4 314.0,413.9 320.9,424.8 321.9,426.4 335.6,446.9 349.2,465.7 362.9,483.0 376.6,498.8 390.3,513.4 404.0,526.8 417.7,539.1 431.4,550.3 445.1,560.7 458.8,570.2 472.5,578.9 486.2,587.0 499.9,594.3 513.6,601.1 527.3,607.3 541.0,613.0 554.7,618.2 568.4,623.1 582.1,627.5 595.8,631.5 609.5,635.3 623.2,638.7 636.9,641.8 650.6,644.7 664.3,647.3 678.0,649.8 691.7,652.0 705.4,654.1 719.1,655.9 732.8,657.7 746.5,659.3 760.2,660.7 773.9,662.1 787.6,663.3 801.3,664.4 815.0,665.5 828.7,666.4 842.4,667.3 856.1,668.1 869.8,668.8 883.5,669.5 897.2,670.1 911,670.7"/>
<polyline points="119.7,641.2 127.2,540.2 134.7,439.3 142.2,338.6 149.7,238.1 157.1,138.0 164.6,38.8 167.6,60.0 170.5,80.5 173.4,100.3 176.4,119.5 179.3,138.0 182.2,155.9 185.2,173.2 188.1,190.0 191.1,206.2 194.0,221.8 194.0,221.8 200.8,256.3 207.7,288.2 214.5,317.7 221.4,344.9 228.2,370.1 235.1,393.4 241.9,414.9 248.8,434.7 255.6,453.1 262.5,470.1 269.3,485.8 276.2,500.3 283.0,513.7 289.9,526.1 296.7,537.5 303.6,548.1 310.4,557.9 311.4,559.2 325.1,576.4 338.8,591.1 352.5,603.6 366.2,614.3 379.9,623.5 393.6,631.3 407.3,638.0 421.0,643.7 434.7,648.6 448.4,652.7 462.1,656.3 475.8,659.3 489.5,661.9 503.2,664.1 516.9,666.0 530.6,667.6 544.3,669.0 558.0,670.2 571.7,671.2 585.4,672.1 599.1,672.8 612.8,673.4 626.5,674.0 640.2,674.4 653.9,674.8 667.6,675.1 681.3,675.4 695.0,675.7 708.7,675.9 722.4,676.1 736.1,676.2 749.8,676.3 763.5,676.5 777.2,676.5 790.9,676.6 804.6,676.7 818.3,676.8 832.0,676.8 845.7,676.8 859.4,676.9 873.1,676.9 886.8,676.9 900.5,677.0 914,677.0"/>
<polyline points="119.7,654.4 128.1,547.8 136.5,442.5 145.0,338.8 153.4,237.2 161.8,138.7 170.2,47.8 173.2,58.7 176.1,69.3 179.0,79.8 182.0,90.1 184.9,100.2 187.8,110.1 190.8,119.8 193.7,129.4 196.7,138.9 199.6,148.1 206.4,169.1 213.3,189.3 220.1,208.6 227.0,227.2 233.8,245.1 240.7,262.2 247.5,278.7 254.4,294.5 261.2,309.7 268.1,324.3 274.9,338.3 281.8,351.7 288.6,364.7 295.5,377.1 302.3,389.0 309.2,400.4 316.0,411.4 317.0,412.9 330.7,433.5 344.4,452.4 358.1,469.9 371.8,486.0 385.5,500.9 399.2,514.6 412.9,527.3 426.6,538.9 440.3,549.7 454.0,559.6 467.7,568.7 481.4,577.2 495.1,584.9 508.8,592.1 522.5,598.7 536.2,604.8 549.9,610.4 563.6,615.6 577.3,620.4 591.0,624.8 604.7,628.9 618.4,632.6 632.1,636.1 645.8,639.3 659.5,642.2 673.2,644.9 686.9,647.4 700.6,649.8 714.3,651.9 728.0,653.8 741.7,655.7 755.4,657.3 769.1,658.9 782.8,660.3 796.5,661.6 810.2,662.8 823.9,663.9 837.6,664.9 851.3,665.9 865.0,666.8 878.7,667.6 892.4,668.3 906.1,669.0 920,669.6"/>
<polyline points="119.7,651.5 124.6,549.1 129.5,447.2 134.4,345.6 139.3,244.6 144.2,144.5 149.1,46.6 152.0,56.8 155.0,66.8 157.9,76.6 160.8,86.2 163.8,95.7 166.7,105.1 169.6,114.3 172.6,123.3 175.5,132.3 178.5,141.0 185.3,160.9 192.2,180.1 199.0,198.5 205.9,216.3 212.7,233.4 219.5,249.9 226.4,265.8 233.2,281.0 240.1,295.7 246.9,309.9 253.8,323.5 260.6,336.7 267.5,349.3 274.3,361.5 281.2,373.2 288.0,384.5 294.9,395.3 295.9,396.8 309.6,417.3 323.3,436.2 337.0,453.8 350.7,470.0 364.4,485.1 378.1,499.1 391.8,512.1 405.5,524.1 419.2,535.3 432.9,545.6 446.6,555.2 460.3,564.1 474.0,572.3 487.7,579.9 501.4,587.0 515.1,593.6 528.8,599.7 542.5,605.3 556.2,610.6 569.9,615.4 583.6,619.9 597.3,624.1 610.9,627.9 624.6,631.5 638.3,634.8 652.0,637.9 665.7,640.8 679.4,643.4 693.1,645.9 706.8,648.1 720.5,650.3 734.2,652.2 747.9,654.0 761.6,655.7 775.3,657.3 789.0,658.7 802.7,660.1 816.4,661.3 830.1,662.4 843.8,663.5 857.5,664.5 871.2,665.4 884.9,666.3 898.6,667.1 912,667.8"/>
<polyline points="119.7,657.2 125.8,552.0 131.9,447.3 138.0,343.2 144.1,240.0 150.3,138.1 156.4,39.5 159.3,48.1 162.2,56.5 165.2,64.8 168.1,73.1 171.1,81.2 174.0,89.1 176.9,97.0 179.9,104.8 182.8,112.5 185.7,120.1 192.6,137.3 199.4,154.1 206.3,170.3 213.1,186.0 220.0,201.2 226.8,216.0 233.7,230.3 240.5,244.1 247.4,257.6 254.2,270.6 261.1,283.2 267.9,295.4 274.8,307.2 281.6,318.7 288.5,329.8 295.3,340.6 302.2,351.0 303.1,352.5 316.8,372.3 330.5,390.9 344.2,408.4 357.9,424.8 371.6,440.2 385.3,454.6 399.0,468.2 412.7,481.0 426.4,493.0 440.1,504.2 453.8,514.7 467.5,524.7 481.2,534.0 494.9,542.7 508.6,550.9 522.3,558.6 536.0,565.8 549.7,572.6 563.4,579.0 577.1,585.0 590.8,590.6 604.5,595.9 618.2,600.9 631.9,605.5 645.6,609.9 659.3,614.0 673.0,617.8 686.7,621.5 700.4,624.9 714.1,628.0 727.8,631.0 741.5,633.9 755.2,636.5 768.9,639.0 782.6,641.3 796.3,643.5 810.0,645.5 823.7,647.5 837.4,649.3 851.1,651.0 864.8,652.6 878.5,654.1 892.2,655.5 905.9,656.8 920,658.0"/>
<polyline points="119.7,645.9 127.8,536.7 135.9,429.4 144.0,324.5 152.2,222.8 160.3,125.9 168.4,40.0 171.3,47.9 174.3,55.6 177.2,63.2 180.1,70.8 183.1,78.2 186.0,85.6 188.9,92.9 191.9,100.1 194.8,107.1 197.8,114.2 204.6,130.2 211.5,145.7 218.3,160.8 225.2,175.5 232.0,189.8 238.9,203.7 245.7,217.1 252.5,230.2 259.4,242.9 266.2,255.3 273.1,267.3 279.9,278.9 286.8,290.3 293.6,301.3 300.5,312.0 307.3,322.3 314.2,332.4 315.2,333.8 328.9,353.1 342.6,371.3 356.3,388.4 370.0,404.6 383.7,419.9 397.4,434.3 411.1,447.9 424.8,460.8 438.5,472.9 452.2,484.4 465.9,495.2 479.6,505.4 493.3,515.0 507.0,524.1 520.7,532.7 534.4,540.8 548.1,548.4 561.8,555.6 575.5,562.5 589.2,568.9 602.9,575.0 616.6,580.7 630.3,586.1 643.9,591.2 657.6,596.0 671.3,600.6 685.0,604.9 698.7,608.9 712.4,612.7 726.1,616.3 739.8,619.7 753.5,623.0 767.2,626.0 780.9,628.9 794.6,631.6 808.3,634.1 822.0,636.5 835.7,638.8 849.4,641.0 863.1,643.0 876.8,644.9 890.5,646.7 904.2,648.4 918,650.0"/>
<polyline points="119.7,656.7 126.6,551.4 133.6,447.0 140.5,343.6 147.4,241.5 154.4,141.5 161.3,46.7 164.2,57.9 167.2,69.0 170.1,79.9 173.0,90.5 176.0,101.0 178.9,111.3 181.8,121.4 184.8,131.3 187.7,141.1 190.6,150.7 190.6,150.7 197.5,172.4 204.3,193.1 211.2,213.1 218.0,232.2 224.9,250.5 231.7,268.1 238.6,284.9 245.4,301.1 252.3,316.6 259.1,331.4 266.0,345.7 272.8,359.3 279.7,372.4 286.5,384.9 293.4,397.0 300.2,408.5 307.1,419.6 308.1,421.1 321.8,441.8 335.5,460.8 349.2,478.2 362.9,494.3 376.6,509.0 390.2,522.6 403.9,535.0 417.6,546.5 431.3,557.0 445.0,566.7 458.7,575.6 472.4,583.8 486.1,591.3 499.8,598.3 513.5,604.6 527.2,610.5 540.9,615.8 554.6,620.8 568.3,625.3 582.0,629.5 595.7,633.3 609.4,636.9 623.1,640.1 636.8,643.1 650.5,645.8 664.2,648.4 677.9,650.7 691.6,652.8 705.3,654.8 719.0,656.6 732.7,658.2 746.4,659.8 760.1,661.2 773.8,662.4 787.5,663.6 801.2,664.7 814.9,665.7 828.6,666.6 842.3,667.5 856.0,668.3 869.7,669.0 883.4,669.6 897.1,670.2 911,670.8"/>
<polyline points="119.7,641.2 129.8,534.1 140.0,428.8 150.1,325.8 160.3,225.8 170.4,130.3 180.6,45.5 183.5,51.5 186.4,57.4 189.4,63.3 192.3,69.2 195.2,75.0 198.2,80.7 201.1,86.4 204.0,92.0 207.0,97.6 209.9,103.1 216.8,115.8 223.6,128.2 230.5,140.3 237.3,152.2 244.2,163.8 251.0,175.1 257.9,186.2 264.7,197.0 271.6,207.6 278.4,218.0 285.3,228.1 292.1,238.0 299.0,247.7 305.8,257.2 312.7,266.5 319.5,275.6 326.3,284.4 327.3,285.7 341.0,302.8 354.7,319.1 368.4,334.8 382.1,349.7 395.8,364.0 409.5,377.7 423.2,390.8 436.9,403.3 450.6,415.2 464.3,426.7 478.0,437.6 491.7,448.1 505.4,458.1 519.1,467.6 532.8,476.8 546.5,485.5 560.2,493.9 573.9,501.9 587.6,509.6 601.3,516.9 615.0,523.9 628.7,530.6 642.4,537.0 656.1,543.1 669.8,549.0 683.5,554.5 697.2,559.9 710.9,565.0 724.6,569.9 738.3,574.6 752.0,579.1 765.7,583.4 779.4,587.5 793.1,591.4 806.8,595.1 820.5,598.7 834.2,602.1 847.9,605.4 861.6,608.5 875.3,611.5 889.0,614.4 902.7,617.1 916,619.7"/>
<polyline points="119.7,646.2 124.4,545.4 129.2,445.0 133.9,345.2 138.6,245.9 143.3,147.6 148.1,51.9 151.0,57.7 153.9,63.6 156.9,69.3 159.8,75.0 162.8,80.7 165.7,86.3 168.6,91.8 171.6,97.3 174.5,102.8 177.4,108.2 184.3,120.6 191.1,132.7 198.0,144.6 204.8,156.2 211.7,167.5 218.5,178.6 225.4,189.5 232.2,200.1 239.1,210.5 245.9,220.6 252.8,230.6 259.6,240.3 266.5,249.8 273.3,259.1 280.2,268.2 287.0,277.1 293.9,285.8 294.9,287.1 308.6,303.9 322.2,320.0 335.9,335.4 349.6,350.1 363.3,364.2 377.0,377.7 390.7,390.6 404.4,402.9 418.1,414.7 431.8,426.0 445.5,436.8 459.2,447.2 472.9,457.1 486.6,466.6 500.3,475.7 514.0,484.3 527.7,492.6 541.4,500.6 555.1,508.2 568.8,515.5 582.5,522.4 596.2,529.1 609.9,535.5 623.6,541.6 637.3,547.4 651.0,553.0 664.7,558.4 678.4,563.5 692.1,568.4 705.8,573.1 719.5,577.5 733.2,581.8 746.9,585.9 760.6,589.9 774.3,593.6 788.0,597.2 801.7,600.7 815.4,604.0 829.1,607.1 842.8,610.1 856.5,613.0 870.2,615.8 883.9,618.4 897.6,620.9 911,623.4"/>
<polyline points="119.7,656.3 124.3,544.6 129.0,435.6 133.6,329.9 138.2,228.4 142.9,133.2 147.5,52.2 150.4,75.9 153.4,98.7 156.3,120.7 159.2,141.8 162.2,162.1 165.1,181.6 168.1,200.4 171.0,218.5 173.9,235.9 176.9,252.6 176.9,252.6 183.7,289.2 190.6,322.7 197.4,353.2 204.3,381.2 211.1,406.7 218.0,430.0 224.8,451.3 231.7,470.8 238.5,488.6 245.4,504.9 252.2,519.7 259.1,533.3 265.9,545.7 272.8,557.0 279.6,567.4 286.5,576.8 293.3,585.5 294.3,586.7 308.0,601.6 321.7,614.1 335.4,624.5 349.1,633.2 362.8,640.4 376.5,646.5 390.2,651.5 403.9,655.7 417.6,659.3 431.3,662.2 445.0,664.7 458.7,666.7 472.4,668.4 486.1,669.9 499.8,671.1 513.5,672.1 527.2,672.9 540.9,673.6 554.6,674.2 568.3,674.6 582.0,675.1 595.7,675.4 609.4,675.7 623.1,675.9 636.8,676.1 650.5,676.3 664.2,676.4 677.9,676.5 691.6,676.6 705.3,676.7 718.9,676.8 732.6,676.8 746.3,676.9 760.0,676.9 773.7,676.9 787.4,677.0 801.1,677.0 814.8,677.0 828.5,677.0 842.2,677.0 855.9,677.0 869.6,677.1 883.3,677.1 897.0,677.1 911,677.1"/>
<polyline points="119.7,654.4 125.9,540.2 132.1,429.2 138.2,322.1 144.4,219.9 150.6,124.8 156.8,45.9 159.7,52.5 162.6,59.1 165.6,65.6 168.5,72.0 171.5,78.4 174.4,84.7 177.3,90.9 180.3,97.0 183.2,103.1 186.1,109.2 193.0,123.0 199.8,136.5 206.7,149.7 213.5,162.5 220.4,175.1 227.2,187.3 234.1,199.2 240.9,210.9 247.8,222.2 254.6,233.3 261.5,244.1 268.3,254.7 275.2,264.9 282.0,275.0 288.9,284.8 295.7,294.3 302.6,303.7 303.5,305.0 317.2,322.9 330.9,339.9 344.6,356.2 358.3,371.6 372.0,386.3 385.7,400.3 399.4,413.6 413.1,426.3 426.8,438.4 440.5,449.9 454.2,460.8 467.9,471.2 481.6,481.1 495.3,490.5 509.0,499.5 522.7,508.1 536.4,516.2 550.1,523.9 563.8,531.3 577.5,538.3 591.2,545.0 604.9,551.4 618.6,557.4 632.3,563.2 646.0,568.7 659.7,573.9 673.4,578.8 687.1,583.6 700.8,588.1 714.5,592.4 728.2,596.4 741.9,600.3 755.6,604.0 769.3,607.5 783.0,610.9 796.7,614.1 810.4,617.1 824.1,620.0 837.8,622.7 851.5,625.3 865.2,627.8 878.9,630.2 892.6,632.5 906.3,634.6 920,636.7"/>
<polyline points="119.7,645.4 126.3,544.7 132.9,444.3 139.5,344.4 146.1,245.0 152.7,146.5 159.4,50.2 162.3,58.2 165.2,66.1 168.2,73.9 171.1,81.6 174.0,89.1 177.0,96.6 179.9,104.0 182.8,111.3 185.8,118.5 188.7,125.6 188.7,125.6 195.6,141.9 202.4,157.7 209.3,173.0 216.1,187.8 223.0,202.3 229.8,216.3 236.7,229.8 243.5,243.0 250.4,255.8 257.2,268.2 264.1,280.3 270.9,292.0 277.8,303.3 284.6,314.4 291.5,325.0 298.3,335.4 305.2,345.5 306.1,346.9 319.8,366.1 333.5,384.2 347.2,401.2 360.9,417.2 374.6,432.3 388.3,446.5 402.0,459.9 415.7,472.5 429.4,484.4 443.1,495.6 456.8,506.1 470.5,516.1 484.2,525.4 497.9,534.2 511.6,542.5 525.3,550.3 539.0,557.7 552.7,564.6 566.4,571.2 580.1,577.3 593.8,583.1 607.5,588.6 621.2,593.7 634.9,598.6 648.6,603.1 662.3,607.4 676.0,611.5 689.7,615.3 703.4,618.9 717.1,622.3 730.8,625.4 744.5,628.4 758.2,631.3 771.9,633.9 785.6,636.4 799.3,638.8 813.0,641.0 826.7,643.1 840.4,645.1 854.1,646.9 867.8,648.7 881.5,650.3 895.2,651.9 908.9,653.4 923,654.7"/>
<polyline points="119.7,654.0 124.4,552.4 129.2,451.3 133.9,350.8 138.6,251.1 143.3,152.6 148.1,57.3 151.0,64.2 153.9,71.0 156.9,77.8 159.8,84.5 162.8,91.1 165.7,97.6 168.6,104.1 171.6,110.5 174.5,116.8 177.4,123.1 184.3,137.4 191.1,151.3 198.0,164.9 204.8,178.2 211.7,191.0 218.5,203.6 225.4,215.8 232.2,227.8 239.1,239.4 245.9,250.7 252.8,261.7 259.6,272.5 266.5,282.9 273.3,293.1 280.2,303.0 287.0,312.7 293.9,322.1 294.9,323.4 308.6,341.5 322.2,358.6 335.9,374.9 349.6,390.3 363.3,404.9 377.0,418.8 390.7,432.0 404.4,444.5 418.1,456.4 431.8,467.6 445.5,478.3 459.2,488.4 472.9,498.1 486.6,507.2 500.3,515.9 514.0,524.1 527.7,531.9 541.4,539.3 555.1,546.3 568.8,553.0 582.5,559.3 596.2,565.4 609.9,571.1 623.6,576.5 637.3,581.6 651.0,586.5 664.7,591.1 678.4,595.5 692.1,599.7 705.8,603.6 719.5,607.4 733.2,610.9 746.9,614.3 760.6,617.5 774.3,620.5 788.0,623.4 801.7,626.2 815.4,628.8 829.1,631.2 842.8,633.6 856.5,635.8 870.2,637.9 883.9,639.9 897.6,641.8 911,643.6"/>
<polyline points="119.7,645.0 121.1,533.6 122.6,425.2 124.0,320.6 125.4,220.8 126.8,128.1 128.3,50.9 131.2,78.4 134.1,104.7 137.1,129.8 140.0,153.9 142.9,176.8 145.9,198.8 148.8,219.8 151.7,239.9 154.7,259.1 157.6,277.4 164.5,317.2 171.3,353.0 178.2,385.2 185.0,414.2 191.9,440.4 198.7,463.9 205.6,485.1 212.4,504.2 219.3,521.4 226.1,536.9 233.0,550.8 239.8,563.4 246.7,574.7 253.5,584.9 260.4,594.1 267.2,602.3 274.1,609.8 275.0,610.8 288.7,623.3 302.4,633.5 316.1,641.7 329.8,648.4 343.5,653.8 357.2,658.2 370.9,661.8 384.6,664.7 398.3,667.0 412.0,668.9 425.7,670.5 439.4,671.7 453.1,672.7 466.8,673.6 480.5,674.2 494.2,674.8 507.9,675.2 521.6,675.6 535.3,675.9 549.0,676.1 562.7,676.3 576.4,676.4 590.1,676.6 603.8,676.7 617.5,676.7 631.2,676.8 644.9,676.9 658.6,676.9 672.3,676.9 686.0,677.0 699.7,677.0 713.4,677.0 727.1,677.0 740.8,677.0 754.5,677.1 768.2,677.1 781.9,677.1 795.6,677.1 809.3,677.1 823.0,677.1 836.7,677.1 850.4,677.1 864.1,677.1 877.8,677.1 891.5,677.1 905.2,677.1 919,677.1"/>
<polyline points="119.7,647.8 126.0,546.0 132.4,444.4 138.7,343.0 145.1,241.7 151.4,140.9 157.8,40.9 160.7,50.9 163.6,60.7 166.6,70.3 169.5,79.8 172.4,89.1 175.4,98.3 178.3,107.3 181.3,116.3 184.2,125.0 187.1,133.6 187.1,133.6 194.0,153.3 200.8,172.2 207.7,190.4 214.5,208.0 221.4,224.9 228.2,241.2 235.1,256.9 241.9,272.1 248.8,286.7 255.6,300.8 262.5,314.4 269.3,327.5 276.2,340.1 283.0,352.3 289.9,364.0 296.7,375.3 303.6,386.2 304.5,387.7 318.2,408.2 331.9,427.3 345.6,445.0 359.3,461.4 373.0,476.7 386.7,490.9 400.4,504.1 414.1,516.4 427.8,527.8 441.5,538.4 455.2,548.2 468.9,557.3 482.6,565.8 496.3,573.7 510.0,581.0 523.7,587.8 537.4,594.2 551.1,600.0 564.8,605.5 578.5,610.6 592.2,615.3 605.9,619.7 619.6,623.8 633.3,627.5 647.0,631.0 660.7,634.3 674.4,637.3 688.1,640.2 701.8,642.8 715.5,645.2 729.2,647.5 742.9,649.6 756.6,651.5 770.3,653.3 784.0,655.0 797.7,656.6 811.4,658.0 825.1,659.4 838.8,660.6 852.5,661.8 866.2,662.9 879.9,663.9 893.6,664.8 907.3,665.7 921,666.5"/>
<polyline points="119.7,642.6 124.5,538.4 129.3,435.5 134.1,334.5 138.9,235.6 143.7,140.2 148.5,53.1 151.4,89.3 154.4,123.5 157.3,155.6 160.2,185.9 163.2,214.5 166.1,241.3 169.1,266.6 172.0,290.5 174.9,312.9 177.9,334.1 184.7,378.8 191.6,417.7 198.4,451.5 205.3,480.9 212.1,506.5 219.0,528.7 225.8,548.0 232.7,564.9 239.5,579.5 246.4,592.2 253.2,603.3 260.1,612.9 266.9,621.3 273.8,628.5 280.6,634.9 287.5,640.4 294.3,645.2 295.3,645.8 309.0,653.4 322.7,659.2 336.4,663.6 350.1,666.9 363.8,669.4 377.5,671.2 391.2,672.7 404.9,673.7 418.6,674.6 432.3,675.2 446.0,675.6 459.7,676.0 473.4,676.3 487.1,676.5 500.8,676.6 514.5,676.7 528.2,676.8 541.9,676.9 555.6,676.9 569.3,677.0 583.0,677.0 596.7,677.0 610.4,677.0 624.1,677.1 637.8,677.1 651.5,677.1 665.2,677.1 678.9,677.1 692.6,677.1 706.3,677.1 720.0,677.1 733.6,677.1 747.3,677.1 761.0,677.1 774.7,677.1 788.4,677.1 802.1,677.1 815.8,677.1 829.5,677.1 843.2,677.1 856.9,677.1 870.6,677.1 884.3,677.1 898.0,677.1 912,677.1"/>
<polyline points="119.7,659.3 126.9,549.5 134.1,441.3 141.3,335.3 148.5,232.1 155.7,132.9 162.9,43.5 165.9,54.8 168.8,65.9 171.7,76.8 174.7,87.5 177.6,98.0 180.5,108.3 183.5,118.4 186.4,128.3 189.4,138.1 192.3,147.7 199.1,169.4 206.0,190.3 212.8,210.3 219.7,229.4 226.5,247.8 233.4,265.4 240.2,282.3 247.1,298.5 253.9,314.1 260.8,329.0 267.6,343.3 274.5,357.0 281.3,370.1 288.2,382.7 295.0,394.8 301.9,406.4 308.7,417.5 309.7,419.1 323.4,439.8 337.1,458.9 350.8,476.4 364.5,492.6 378.2,507.4 391.9,521.1 405.6,533.6 419.3,545.1 433.0,555.8 446.7,565.5 460.4,574.5 474.1,582.7 487.8,590.3 501.5,597.3 515.2,603.7 528.9,609.6 542.6,615.1 556.3,620.0 570.0,624.6 583.7,628.8 597.4,632.7 611.1,636.3 624.8,639.6 638.5,642.6 652.2,645.4 665.9,647.9 679.6,650.3 693.3,652.4 707.0,654.4 720.7,656.2 734.4,657.9 748.1,659.5 761.8,660.9 775.5,662.2 789.2,663.4 802.9,664.5 816.6,665.5 830.3,666.4 844.0,667.3 857.7,668.1 871.4,668.8 885.1,669.5 898.8,670.1 912,670.6"/>
<polyline points="119.7,640.0 125.3,529.2 130.9,421.0 136.4,316.2 142.0,215.6 147.6,121.3 153.2,41.2 156.1,47.6 159.1,54.0 162.0,60.3 164.9,66.5 167.9,72.6 170.8,78.7 173.7,84.8 176.7,90.8 179.6,96.7 182.5,102.5 189.4,116.0 196.2,129.1 203.1,141.9 209.9,154.4 216.8,166.6 223.6,178.6 230.5,190.2 237.3,201.6 244.2,212.7 251.0,223.6 257.9,234.2 264.7,244.6 271.6,254.7 278.4,264.5 285.3,274.2 292.1,283.6 299.0,292.8 300.0,294.1 313.7,311.8 327.4,328.7 341.1,344.8 354.8,360.2 368.5,374.8 382.2,388.8 395.9,402.1 409.6,414.8 423.3,426.9 437.0,438.5 450.7,449.5 464.4,460.1 478.1,470.1 491.8,479.7 505.5,488.8 519.2,497.5 532.9,505.8 546.6,513.7 560.2,521.3 573.9,528.5 587.6,535.3 601.3,541.9 615.0,548.1 628.7,554.1 642.4,559.8 656.1,565.2 669.8,570.4 683.5,575.3 697.2,580.0 710.9,584.5 724.6,588.8 738.3,592.9 752.0,596.8 765.7,600.5 779.4,604.0 793.1,607.4 806.8,610.6 820.5,613.7 834.2,616.6 847.9,619.4 861.6,622.1 875.3,624.6 889.0,627.0 902.7,629.4 916,631.6"/>
<polyline points="119.7,654.5 127.2,548.0 134.7,442.7 142.2,339.1 149.7,237.6 157.1,139.4 164.6,49.0 167.6,57.1 170.5,65.0 173.4,72.8 176.4,80.5 179.3,88.1 182.2,95.6 185.2,103.0 188.1,110.4 191.1,117.6 194.0,124.7 200.8,141.0 207.7,156.8 214.5,172.2 221.4,187.1 228.2,201.6 235.1,215.6 241.9,229.2 248.8,242.4 255.6,255.3 262.5,267.7 269.3,279.8 276.2,291.5 283.0,302.9 289.9,313.9 296.7,324.7 303.6,335.1 310.4,345.2 311.4,346.6 325.1,365.8 338.8,383.9 352.5,400.9 366.2,417.0 379.9,432.1 393.6,446.4 407.3,459.8 421.0,472.4 434.7,484.3 448.4,495.5 462.1,506.1 475.8,516.0 489.5,525.4 503.2,534.2 516.9,542.5 530.6,550.4 544.3,557.7 558.0,564.7 571.7,571.2 585.4,577.4 599.1,583.2 612.8,588.6 626.5,593.8 640.2,598.6 653.9,603.2 667.6,607.5 681.3,611.5 695.0,615.3 708.7,618.9 722.4,622.3 736.1,625.5 749.8,628.5 763.5,631.3 777.2,634.0 790.9,636.5 804.6,638.9 818.3,641.1 832.0,643.2 845.7,645.2 859.4,647.0 873.1,648.8 886.8,650.4 900.5,652.0 914,653.4"/>
<polyline points="119.7,641.5 128.3,532.9 136.9,426.7 145.6,323.5 154.2,224.2 162.8,130.7 171.4,50.4 174.4,58.8 177.3,67.1 180.3,75.2 183.2,83.2 186.1,91.2 189.1,99.0 192.0,106.7 194.9,114.3 197.9,121.9 200.8,129.3 207.7,146.2 214.5,162.6 221.3,178.5 228.2,193.9 235.0,208.8 241.9,223.3 248.7,237.3 255.6,250.9 262.4,264.1 269.3,276.8 276.1,289.2 283.0,301.2 289.8,312.8 296.7,324.0 303.5,334.9 310.4,345.5 317.2,355.7 318.2,357.2 331.9,376.6 345.6,394.9 359.3,412.1 373.0,428.2 386.7,443.3 400.4,457.6 414.1,470.9 427.8,483.5 441.5,495.2 455.2,506.3 468.9,516.7 482.6,526.4 496.3,535.6 510.0,544.2 523.7,552.3 537.4,559.9 551.1,567.0 564.8,573.7 578.5,580.0 592.2,585.9 605.9,591.5 619.6,596.7 633.3,601.6 647.0,606.2 660.7,610.5 674.4,614.5 688.1,618.3 701.8,621.9 715.5,625.3 729.2,628.4 742.9,631.4 756.6,634.2 770.3,636.8 784.0,639.2 797.7,641.5 811.4,643.7 825.1,645.7 838.8,647.6 852.5,649.4 866.2,651.1 879.9,652.7 893.6,654.2 907.3,655.6 921,656.9"/>
<polyline points="119.7,635.1 126.9,526.9 134.1,421.2 141.3,318.6 148.4,220.1 155.6,127.4 162.8,48.1 165.8,64.6 168.7,80.7 171.6,96.4 174.6,111.6 177.5,126.5 180.4,140.9 183.4,155.0 186.3,168.7 189.2,182.1 192.2,195.1 199.0,224.1 205.9,251.4 212.7,277.0 219.6,301.1 226.4,323.7 233.3,345.0 240.1,365.0 247.0,383.8 253.8,401.4 260.7,418.0 267.5,433.6 274.4,448.3 281.2,462.1 288.1,475.0 294.9,487.2 301.8,498.6 308.6,509.4 309.6,510.8 323.3,530.3 337.0,547.4 350.7,562.6 364.4,575.9 378.1,587.7 391.8,598.2 405.5,607.4 419.2,615.5 432.9,622.7 446.6,629.1 460.3,634.7 474.0,639.6 487.7,644.0 501.4,647.9 515.1,651.3 528.8,654.3 542.5,657.0 556.2,659.3 569.9,661.4 583.6,663.2 597.3,664.8 611.0,666.3 624.7,667.5 638.4,668.7 652.1,669.6 665.8,670.5 679.5,671.3 693.2,672.0 706.9,672.6 720.6,673.1 734.3,673.6 748.0,674.0 761.7,674.3 775.4,674.7 789.1,674.9 802.8,675.2 816.5,675.4 830.2,675.6 843.9,675.8 857.6,675.9 871.3,676.1 885.0,676.2 898.7,676.3 912,676.4"/>
<polyline points="119.7,643.4 126.1,543.7 132.6,444.2 139.0,345.0 145.5,246.4 151.9,148.4 158.3,52.4 161.3,59.8 164.2,67.2 167.1,74.4 170.1,81.6 173.0,88.7 175.9,95.7 178.9,102.7 181.8,109.5 184.7,116.3 187.7,122.9 194.5,138.2 201.4,153.1 208.2,167.5 215.1,181.6 221.9,195.3 228.8,208.5 235.6,221.5 242.5,234.0 249.3,246.3 256.2,258.1 263.0,269.7 269.9,280.9 276.7,291.8 283.6,302.5 290.4,312.8 297.3,322.9 304.1,332.6 305.1,334.0 318.8,352.7 332.5,370.3 346.2,387.0 359.9,402.8 373.6,417.7 387.3,431.8 401.0,445.2 414.7,457.8 428.4,469.7 442.1,481.0 455.8,491.6 469.5,501.7 483.2,511.3 496.9,520.3 510.6,528.8 524.3,536.9 538.0,544.5 551.7,551.7 565.4,558.5 579.1,565.0 592.8,571.1 606.5,576.9 620.2,582.3 633.9,587.5 647.6,592.3 661.3,597.0 675.0,601.3 688.7,605.4 702.4,609.3 716.1,613.0 729.8,616.5 743.5,619.8 757.2,622.9 770.9,625.9 784.6,628.7 798.3,631.3 812.0,633.8 825.7,636.1 839.4,638.4 853.1,640.5 866.8,642.5 880.5,644.3 894.2,646.1 907.9,647.8 922,649.4"/>
<polyline points="119.7,654.3 130.7,547.8 141.7,442.7 152.7,339.2 163.7,237.9 174.7,139.9 185.7,50.0 188.7,56.9 191.6,63.7 194.5,70.4 197.5,77.1 200.4,83.7 203.3,90.2 206.3,96.7 209.2,103.1 212.1,109.4 215.1,115.6 221.9,130.0 228.8,143.9 235.6,157.5 242.5,170.7 249.3,183.6 256.2,196.2 263.0,208.5 269.9,220.4 276.7,232.1 283.6,243.4 290.4,254.5 297.3,265.2 304.1,275.7 311.0,286.0 317.8,295.9 324.7,305.6 331.5,315.1 332.5,316.5 346.2,334.6 359.9,351.8 373.6,368.2 387.3,383.8 401.0,398.5 414.7,412.5 428.4,425.9 442.1,438.5 455.8,450.5 469.5,461.9 483.2,472.7 496.9,483.0 510.6,492.8 524.3,502.1 538.0,510.9 551.7,519.2 565.4,527.2 579.1,534.7 592.8,541.9 606.5,548.7 620.2,555.2 633.9,561.3 647.6,567.1 661.3,572.7 675.0,577.9 688.7,582.9 702.4,587.7 716.1,592.2 729.8,596.4 743.5,600.5 757.2,604.3 770.9,608.0 784.6,611.5 798.3,614.8 812.0,617.9 825.7,620.9 839.4,623.7 853.1,626.4 866.8,629.0 880.5,631.4 894.2,633.7 907.9,635.9 922,637.9"/>
<polyline points="119.7,641.5 126.8,541.9 133.9,442.2 141.1,342.7 148.2,243.2 155.3,143.8 162.4,44.8 165.4,55.9 168.3,66.9 171.2,77.6 174.2,88.2 177.1,98.6 180.0,108.8 183.0,118.8 185.9,128.6 188.8,138.3 191.8,147.8 191.8,147.8 198.6,169.3 205.5,189.9 212.3,209.7 219.2,228.7 226.0,246.9 232.9,264.4 239.7,281.2 246.6,297.3 253.4,312.7 260.3,327.5 267.1,341.7 274.0,355.4 280.8,368.4 287.7,381.0 294.5,393.0 301.4,404.6 308.2,415.6 309.2,417.2 322.9,437.9 336.6,456.9 350.3,474.5 364.0,490.6 377.7,505.4 391.4,519.1 405.1,531.7 418.8,543.3 432.5,553.9 446.2,563.7 459.9,572.8 473.6,581.1 487.3,588.7 501.0,595.8 514.7,602.2 528.4,608.2 542.1,613.7 555.8,618.7 569.5,623.4 583.2,627.7 596.9,631.6 610.6,635.2 624.3,638.6 638.0,641.6 651.7,644.4 665.4,647.0 679.1,649.4 692.8,651.6 706.5,653.7 720.2,655.5 733.9,657.3 747.6,658.8 761.3,660.3 775.0,661.6 788.7,662.9 802.4,664.0 816.1,665.0 829.8,666.0 843.5,666.9 857.2,667.7 870.9,668.4 884.5,669.1 898.2,669.8 912,670.4"/>
<polyline points="119.7,657.9 126.5,546.9 133.4,437.9 140.2,331.5 147.0,228.3 153.9,130.0 160.7,43.1 163.7,51.0 166.6,58.7 169.5,66.3 172.5,73.8 175.4,81.3 178.3,88.6 181.3,95.9 184.2,103.0 187.1,110.1 190.1,117.1 190.1,117.1 196.9,133.1 203.8,148.6 210.6,163.7 217.5,178.3 224.3,192.6 231.2,206.4 238.0,219.8 244.9,232.9 251.7,245.5 258.6,257.8 265.4,269.8 272.3,281.4 279.1,292.7 286.0,303.7 292.8,314.3 299.7,324.7 306.5,334.7 307.5,336.1 321.2,355.3 334.9,373.4 348.6,390.5 362.3,406.6 376.0,421.8 389.7,436.2 403.4,449.7 417.1,462.5 430.8,474.6 444.5,486.0 458.2,496.7 471.9,506.9 485.6,516.5 499.3,525.5 513.0,534.0 526.7,542.1 540.4,549.7 554.1,556.8 567.8,563.6 581.5,570.0 595.2,576.0 608.9,581.7 622.6,587.1 636.3,592.1 650.0,596.9 663.7,601.4 677.4,605.7 691.1,609.7 704.8,613.5 718.5,617.1 732.2,620.4 745.9,623.6 759.6,626.6 773.3,629.5 787.0,632.1 800.7,634.7 814.4,637.1 828.1,639.3 841.8,641.4 855.5,643.4 869.2,645.3 882.9,647.1 896.6,648.8 910.3,650.4 924,651.9"/>
<polyline points="119.7,639.6 126.0,536.6 132.2,434.7 138.5,334.4 144.8,236.1 151.1,140.7 157.3,52.7 160.3,63.3 163.2,73.7 166.1,84.0 169.1,94.1 172.0,104.0 174.9,113.8 177.9,123.4 180.8,132.8 183.7,142.1 186.7,151.2 193.5,171.8 200.4,191.7 207.2,210.8 214.1,229.1 220.9,246.7 227.8,263.6 234.6,279.8 241.5,295.4 248.3,310.4 255.2,324.8 262.0,338.7 268.9,352.0 275.7,364.7 282.6,377.0 289.4,388.8 296.3,400.1 303.1,411.0 304.1,412.5 317.8,432.9 331.5,451.7 345.2,469.1 358.9,485.1 372.6,499.9 386.3,513.5 400.0,526.1 413.7,537.7 427.4,548.5 441.1,558.4 454.8,567.5 468.5,576.0 482.2,583.8 495.9,590.9 509.6,597.6 523.3,603.7 537.0,609.4 550.7,614.6 564.4,619.4 578.1,623.8 591.8,627.9 605.5,631.7 619.2,635.2 632.9,638.4 646.6,641.4 660.3,644.2 674.0,646.7 687.7,649.0 701.4,651.2 715.1,653.2 728.8,655.0 742.5,656.7 756.2,658.3 769.9,659.8 783.6,661.1 797.3,662.3 811.0,663.5 824.7,664.5 838.4,665.5 852.1,666.4 865.8,667.2 879.5,668.0 893.2,668.7 906.9,669.3 921,669.9"/>
<polyline points="119.7,648.0 126.2,546.4 132.6,445.2 139.1,344.5 145.5,244.3 152.0,145.1 158.4,48.4 161.4,54.8 164.3,61.1 167.2,67.4 170.2,73.6 173.1,79.8 176.1,85.9 179.0,91.9 181.9,97.9 184.9,103.8 187.8,109.7 194.6,123.1 201.5,136.2 208.3,149.0 215.2,161.5 222.0,173.7 228.9,185.6 235.7,197.2 242.6,208.6 249.4,219.7 256.3,230.5 263.1,241.1 270.0,251.4 276.8,261.4 283.7,271.3 290.5,280.9 297.4,290.2 304.2,299.4 305.2,300.7 318.9,318.3 332.6,335.1 346.3,351.1 360.0,366.3 373.7,380.8 387.4,394.7 401.1,407.9 414.8,420.5 428.5,432.5 442.2,443.9 455.9,454.8 469.6,465.2 483.3,475.1 497.0,484.6 510.7,493.6 524.4,502.1 538.1,510.3 551.8,518.1 565.5,525.5 579.2,532.6 592.9,539.4 606.6,545.8 620.3,552.0 634.0,557.8 647.7,563.4 661.4,568.7 675.1,573.8 688.8,578.6 702.5,583.2 716.2,587.6 729.9,591.8 743.6,595.8 757.3,599.6 771.0,603.2 784.7,606.7 798.4,609.9 812.1,613.1 825.8,616.1 839.5,618.9 853.2,621.7 866.9,624.2 880.6,626.7 894.3,629.1 908.0,631.3 922,633.5"/>
</g>
<line x1="149.4" y1="677.1" x2="149.4" y2="48.0" stroke="#c85058" stroke-opacity="0.45" stroke-width="3.3" stroke-dasharray="14.6 6.8"/>
<line x1="171.7" y1="677.1" x2="171.7" y2="48.0" stroke="#c85058" stroke-opacity="0.45" stroke-width="3.3" stroke-dasharray="14.6 6.8"/>
<line x1="238.5" y1="677.1" x2="238.5" y2="286.6" stroke="#008000" stroke-opacity="0.5" stroke-width="3.3" stroke-dasharray="14.6 6.8"/>
<line x1="305.3" y1="677.1" x2="305.3" y2="286.6" stroke="#008000" stroke-opacity="0.5" stroke-width="3.3" stroke-dasharray="14.6 6.8"/>
<line x1="275.6" y1="677.1" x2="275.6" y2="372.0" stroke="#9370db" stroke-opacity="0.6" stroke-width="3.3" stroke-dasharray="14.6 6.8"/>
<line x1="387.0" y1="677.1" x2="387.0" y2="372.0" stroke="#9370db" stroke-opacity="0.6" stroke-width="3.3" stroke-dasharray="14.6 6.8"/>
<line x1="327.6" y1="677.1" x2="327.6" y2="469.6" stroke="#6495ed" stroke-opacity="0.6" stroke-width="3.3" stroke-dasharray="14.6 6.8"/>
<line x1="513.2" y1="677.1" x2="513.2" y2="469.6" stroke="#6495ed" stroke-opacity="0.6" stroke-width="3.3" stroke-dasharray="14.6 6.8"/>
<line x1="113.5" y1="48.0" x2="171.7" y2="48.0" stroke="#c85058" stroke-opacity="0.45" stroke-width="3.3" stroke-dasharray="14.6 6.8"/>
<line x1="113.5" y1="286.6" x2="305.3" y2="286.6" stroke="#008000" stroke-opacity="0.5" stroke-width="3.3" stroke-dasharray="14.6 6.8"/>
<line x1="113.5" y1="372.0" x2="387.0" y2="372.0" stroke="#9370db" stroke-opacity="0.6" stroke-width="3.3" stroke-dasharray="14.6 6.8"/>
<line x1="113.5" y1="469.6" x2="513.2" y2="469.6" stroke="#6495ed" stroke-opacity="0.6" stroke-width="3.3" stroke-dasharray="14.6 6.8"/>
<polyline points="119.1,636.8 127.6,444.0 136.2,240.2 141.3,112.1 149.4,48.0 152.0,52.5 154.9,57.7 157.9,62.9 160.8,68.0 163.7,73.1 166.7,78.1 169.6,83.1 172.5,88.1 175.5,93.0 178.4,97.9 181.3,102.8 184.3,107.6 187.2,112.4 190.2,117.2 193.1,122.0 196.0,126.7 199.0,131.4 201.9,136.1 204.8,140.8 207.8,145.4 210.7,150.0 213.6,154.6 216.6,159.2 219.5,163.7 222.4,168.2 225.4,172.7 228.3,177.2 231.2,181.6 234.2,186.1 237.1,190.5 240.1,194.8 243.0,199.2 245.9,203.5 248.9,207.8 251.8,212.1 254.7,216.3 257.7,220.6 260.6,224.8 263.5,228.9 266.5,233.1 269.4,237.2 272.3,241.3 275.3,245.4 278.2,249.4 281.2,253.4 284.1,257.4 287.0,261.3 290.0,265.2 292.9,269.1 295.8,272.9 298.8,276.7 301.7,280.5 304.6,284.2 307.6,287.8 310.5,291.2 313.4,294.7 315.4,296.9 321.3,303.7 327.1,310.2 333.0,316.7 338.9,323.1 344.8,329.3 350.6,335.5 356.5,341.5 362.4,347.4 368.2,353.3 374.1,359.0 380.0,364.6 385.9,370.1 391.7,375.5 397.6,380.9 403.5,386.1 409.3,391.2 415.2,396.3 421.1,401.3 426.9,406.1 432.8,410.9 438.7,415.6 444.6,420.2 450.4,424.8 456.3,429.2 462.2,433.6 468.0,437.9 473.9,442.1 479.8,446.3 485.7,450.4 491.5,454.4 497.4,458.3 503.3,462.2 509.1,466.0 515.0,469.7 520.9,473.3 526.8,476.9 532.6,480.5 538.5,484.0 544.4,487.4 550.2,490.7 556.1,494.0 562.0,497.2 567.9,500.4 573.7,503.5 579.6,506.6 585.5,509.6 591.3,512.6 597.2,515.5 603.1,518.3 609.0,521.1 614.8,523.9 620.7,526.6 626.6,529.3 632.4,531.9 638.3,534.4 644.2,537.0 650.0,539.4 655.9,541.9 661.8,544.2 667.7,546.6 673.5,548.9 679.4,551.2 685.3,553.4 691.1,555.6 697.0,557.7 702.9,559.8 708.8,561.9 714.6,563.9 720.5,565.9 726.4,567.9 732.2,569.8 738.1,571.7 744.0,573.6 749.9,575.4 755.7,577.2 761.6,579.0 767.5,580.7 773.3,582.4 779.2,584.1 785.1,585.7 791.0,587.3 796.8,588.9 802.7,590.5 808.6,592.0 814.4,593.5 820.3,595.0 826.2,596.4 832.0,597.9 837.9,599.3 843.8,600.6 849.7,602.0 855.5,603.3 861.4,604.6 867.3,605.9 873.1,607.2 879.0,608.4 884.9,609.6 890.8,610.8 896.6,612.0 902.5,613.1" fill="none" stroke="#e60000" stroke-width="3.3" stroke-linejoin="round"/>
<polyline points="119.3,656.7 171.7,47.9 172.7,48.5 173.2,49.2 173.6,50.0 174.0,50.8 174.4,51.5 174.7,52.2 175.0,53.0 175.3,53.8 175.6,54.5 175.9,55.2 176.2,56.0 176.5,56.8 176.7,57.5 177.0,58.2 177.2,59.0 177.5,59.8 177.6,60.0 178.4,62.5 179.1,65.0 179.8,67.5 180.5,70.0 181.2,72.5 181.9,75.0 182.5,77.5 183.1,80.0 183.8,82.5 184.4,85.0 185.0,87.5 185.6,90.0 186.2,92.5 186.8,95.0 187.4,97.5 188.0,100.0 188.6,102.5 189.2,105.0 189.8,107.5 190.4,110.0 190.9,112.5 191.5,115.0 192.1,117.5 192.7,120.0 193.3,122.5 193.9,125.0 194.5,127.5 195.1,130.0 195.7,132.5 196.3,135.0 196.9,137.5 197.5,140.0 198.1,142.5 198.7,145.0 199.3,147.5 200.0,150.0 200.6,152.5 201.2,155.0 201.8,157.5 202.5,160.0 203.1,162.5 203.7,165.0 204.4,167.5 205.0,170.0 205.7,172.5 206.4,175.0 207.0,177.5 207.7,180.0 208.4,182.5 209.0,185.0 209.7,187.5 210.4,190.0 211.1,192.5 211.8,195.0 212.5,197.5 213.2,200.0 213.9,202.5 214.7,205.0 215.4,207.5 216.1,210.0 216.9,212.5 217.6,215.0 218.4,217.5 219.1,220.0 219.9,222.5 220.6,225.0 221.4,227.5 222.2,230.0 223.0,232.5 223.8,235.0 224.6,237.5 225.4,240.0 226.2,242.5 227.0,245.0 227.8,247.5 228.6,250.0 229.5,252.5 230.3,255.0 231.2,257.5 232.0,260.0 232.9,262.5 233.7,265.0 234.6,267.5 235.5,270.0 236.4,272.5 237.3,275.0 238.2,277.5 239.1,280.0 240.0,282.5 240.9,285.0 241.9,287.5 242.8,290.0 243.7,292.5 244.7,295.0 245.6,297.5 246.6,300.0 247.6,302.5 248.5,305.0 249.5,307.5 250.5,310.0 251.5,312.5 252.5,315.0 253.5,317.5 254.5,320.0 255.6,322.5 256.6,325.0 257.6,327.5 258.7,330.0 259.7,332.5 260.8,335.0 261.9,337.5 263.0,340.0 264.0,342.5 265.1,345.0 266.2,347.5 267.3,350.0 268.5,352.5 269.6,355.0 270.7,357.5 271.8,360.0 273.0,362.5 274.1,365.0 275.3,367.5 276.5,370.0 277.6,372.5 278.8,375.0 280.0,377.5 281.2,380.0 282.4,382.5 283.6,385.0 284.8,387.5 286.1,390.0 287.3,392.5 288.5,395.0 289.8,397.5 291.0,400.0 292.3,402.5 293.6,405.0 294.9,407.5 296.2,410.0 297.5,412.5 298.8,415.0 300.1,417.5 301.4,420.0 302.7,422.5 304.1,425.0 305.4,427.5 306.7,430.0 308.1,432.5 309.5,435.0 310.9,437.5 312.2,440.0 313.6,442.5 315.0,445.0 316.4,447.5 317.8,450.0 319.3,452.5 320.7,455.0 322.1,457.5 323.6,460.0 325.0,462.5 326.5,465.0 328.0,467.5 329.1,469.6 333.0,475.3 336.9,480.8 340.8,486.1 344.8,491.3 348.7,496.4 352.6,501.3 356.5,506.1 360.4,510.7 364.3,515.3 368.2,519.7 372.2,524.0 376.1,528.1 380.0,532.2 383.9,536.1 387.8,540.0 391.7,543.7 395.6,547.3 399.6,550.9 403.5,554.3 407.4,557.6 411.3,560.9 413.2,562.5 421.1,568.6 428.9,574.5 436.7,580.0 444.6,585.2 452.4,590.1 460.2,594.8 468.0,599.2 475.9,603.4 483.7,607.4 491.5,611.1 499.4,614.7 507.2,618.0 515.0,621.2 522.8,624.2 530.7,627.0 538.5,629.7 546.3,632.3 554.2,634.7 562.0,636.9 569.8,639.1 577.6,641.1 585.5,643.1 593.3,644.9 601.1,646.6 609.0,648.3 616.8,649.8 624.6,651.3 632.4,652.7 640.3,654.0 648.1,655.2 655.9,656.4 663.7,657.5 671.6,658.6 679.4,659.6 687.2,660.5 695.1,661.4 702.9,662.2 710.7,663.0 718.5,663.8 726.4,664.5 734.2,665.2 742.0,665.8 749.9,666.4 757.7,667.0 765.5,667.5 773.3,668.1 781.2,668.5 789.0,669.0 796.8,669.4 804.7,669.8 812.5,670.2 820.3,670.6 828.1,671.0 836.0,671.3 843.8,671.6 851.6,671.9 859.4,672.2 867.3,672.4 875.1,672.7 882.9,672.9 890.8,673.1 898.6,673.4 906.4,673.6" fill="none" stroke="#0000e6" stroke-width="3.3" stroke-linejoin="round"/>
<circle cx="171.7" cy="48.0" r="5.6" fill="#c85058" fill-opacity="0.5" stroke="#c85058" stroke-opacity="0.5" stroke-width="1.4"/>
<circle cx="238.5" cy="286.6" r="5.6" fill="#008000" fill-opacity="0.5" stroke="#008000" stroke-opacity="0.5" stroke-width="1.4"/>
<circle cx="305.3" cy="286.6" r="5.6" fill="#008000" fill-opacity="0.5" stroke="#008000" stroke-opacity="0.5" stroke-width="1.4"/>
<circle cx="275.6" cy="372.0" r="5.6" fill="#9370db" fill-opacity="0.5" stroke="#9370db" stroke-opacity="0.5" stroke-width="1.4"/>
<circle cx="387.0" cy="372.0" r="5.6" fill="#9370db" fill-opacity="0.5" stroke="#9370db" stroke-opacity="0.5" stroke-width="1.4"/>
<circle cx="327.6" cy="469.6" r="5.6" fill="#6495ed" fill-opacity="0.5" stroke="#6495ed" stroke-opacity="0.5" stroke-width="1.4"/>
<circle cx="513.2" cy="469.6" r="5.6" fill="#6495ed" fill-opacity="0.5" stroke="#6495ed" stroke-opacity="0.5" stroke-width="1.4"/>
</g>
<text x="138.6" y="23.3" font-size="24" fill="#d80000">RMW</text>
<text x="138.6" y="44.3" font-size="24" fill="#d80000">30.4</text>
<text x="200.5" y="23.3" font-size="24" fill="#0000d0">RMW</text>
<text x="200.5" y="44.3" font-size="24" fill="#0000d0">53.1</text>
<text x="175.6" y="255.7" font-size="24" fill="#0000d0">R64</text>
<text x="176.7" y="282.5" font-size="24" fill="#0000d0">121.4</text>
<text x="305.3" y="255.7" font-size="24" fill="#d80000">R64</text>
<text x="305.3" y="282.5" font-size="24" fill="#d80000">189.7</text>
<text x="209.8" y="341.2" font-size="24" fill="#0000d0">R50</text>
<text x="210.6" y="368.0" font-size="24" fill="#0000d0">159.3</text>
<text x="387.6" y="341.2" font-size="24" fill="#d80000">R50</text>
<text x="387.6" y="368.0" font-size="24" fill="#d80000">273.2</text>
<text x="249.0" y="439.2" font-size="24" fill="#0000d0">R34</text>
<text x="248.3" y="466.5" font-size="24" fill="#0000d0">212.5</text>
<text x="513.2" y="439.2" font-size="24" fill="#d80000">R34</text>
<text x="512.1" y="466.5" font-size="24" fill="#d80000">402.1</text>
<line x1="411.4" y1="42.2" x2="453.9" y2="42.2" stroke="#0000d0" stroke-width="3.2"/>
<text x="471.4" y="47.3" font-size="24" fill="#0000d0">Case A:</text>
<text x="471.4" y="72.7" font-size="24" fill="#0000d0">Large RMW</text>
<text x="471.4" y="97.7" font-size="24" fill="#0000d0">Small R34,R50,R64</text>
<text x="471.4" y="126.6" font-size="24" font-style="italic" fill="#0000d0">H</text>
<text x="489.0" y="133.2" font-size="18.5" font-style="italic" fill="#0000d0">s</text>
<text x="492.3" y="117.6" font-size="18.5" font-style="italic" fill="#0000d0">max</text>
<text x="531.1" y="126.6" font-size="24" fill="#0000d0">: 18.7 m</text>
<line x1="411.4" y1="176.8" x2="453.9" y2="176.8" stroke="#e00000" stroke-width="3.2"/>
<text x="471.4" y="180.7" font-size="24" fill="#d80000">Case B:</text>
<text x="471.4" y="205.9" font-size="24" fill="#d80000">Small RMW</text>
<text x="471.4" y="232.2" font-size="24" fill="#d80000">Large R34,R50,R64</text>
<text x="471.4" y="260.5" font-size="24" font-style="italic" fill="#d80000">H</text>
<text x="489.0" y="267.1" font-size="18.5" font-style="italic" fill="#d80000">s</text>
<text x="492.3" y="251.5" font-size="18.5" font-style="italic" fill="#d80000">max</text>
<text x="531.1" y="260.5" font-size="24" fill="#d80000">: 21.0 m</text>
<rect x="716.2" y="20.1" width="172.3" height="169.1" rx="6" fill="#fff" fill-opacity="0.8" stroke="#d0d0d0" stroke-width="1.6"/>
<line x1="728" y1="41.4" x2="784" y2="41.4" stroke="#6495ed" stroke-opacity="0.6" stroke-width="3.3" stroke-dasharray="14.4 6.9"/>
<text x="806.4" y="51.4" font-size="27.8" fill="#000">R34</text>
<line x1="728" y1="81.6" x2="784" y2="81.6" stroke="#9370db" stroke-opacity="0.6" stroke-width="3.3" stroke-dasharray="14.4 6.9"/>
<text x="806.4" y="91.6" font-size="27.8" fill="#000">R50</text>
<line x1="728" y1="121.8" x2="784" y2="121.8" stroke="#008000" stroke-opacity="0.5" stroke-width="3.3" stroke-dasharray="14.4 6.9"/>
<text x="806.4" y="131.8" font-size="27.8" fill="#000">R64</text>
<line x1="728" y1="162.0" x2="784" y2="162.0" stroke="#c85058" stroke-opacity="0.45" stroke-width="3.3" stroke-dasharray="14.4 6.9"/>
<text x="806.4" y="172.0" font-size="27.8" fill="#000">RMW</text>
<rect x="115.1" y="5.9" width="787.5" height="671.2" fill="none" stroke="#222" stroke-width="1.9"/>
<line x1="119.7" y1="677.1" x2="119.7" y2="684.4" stroke="#000" stroke-width="1.8"/>
<text x="119.7" y="713.9" font-size="32" text-anchor="middle">0</text>
<line x1="217.6" y1="677.1" x2="217.6" y2="684.4" stroke="#000" stroke-width="1.8"/>
<text x="217.6" y="713.9" font-size="32" text-anchor="middle">100</text>
<line x1="315.4" y1="677.1" x2="315.4" y2="684.4" stroke="#000" stroke-width="1.8"/>
<text x="315.4" y="713.9" font-size="32" text-anchor="middle">200</text>
<line x1="413.2" y1="677.1" x2="413.2" y2="684.4" stroke="#000" stroke-width="1.8"/>
<text x="413.2" y="713.9" font-size="32" text-anchor="middle">300</text>
<line x1="511.1" y1="677.1" x2="511.1" y2="684.4" stroke="#000" stroke-width="1.8"/>
<text x="511.1" y="713.9" font-size="32" text-anchor="middle">400</text>
<line x1="609.0" y1="677.1" x2="609.0" y2="684.4" stroke="#000" stroke-width="1.8"/>
<text x="609.0" y="713.9" font-size="32" text-anchor="middle">500</text>
<line x1="706.8" y1="677.1" x2="706.8" y2="684.4" stroke="#000" stroke-width="1.8"/>
<text x="706.8" y="713.9" font-size="32" text-anchor="middle">600</text>
<line x1="804.7" y1="677.1" x2="804.7" y2="684.4" stroke="#000" stroke-width="1.8"/>
<text x="804.7" y="713.9" font-size="32" text-anchor="middle">700</text>
<line x1="902.5" y1="677.1" x2="902.5" y2="684.4" stroke="#000" stroke-width="1.8"/>
<text x="902.5" y="713.9" font-size="32" text-anchor="middle">800</text>
<line x1="115.1" y1="677.1" x2="107.8" y2="677.1" stroke="#000" stroke-width="1.8"/>
<text x="100.6" y="688.5" font-size="32" text-anchor="end">0</text>
<line x1="115.1" y1="555.1" x2="107.8" y2="555.1" stroke="#000" stroke-width="1.8"/>
<text x="100.6" y="566.5" font-size="32" text-anchor="end">20</text>
<line x1="115.1" y1="433.0" x2="107.8" y2="433.0" stroke="#000" stroke-width="1.8"/>
<text x="100.6" y="444.4" font-size="32" text-anchor="end">40</text>
<line x1="115.1" y1="311.0" x2="107.8" y2="311.0" stroke="#000" stroke-width="1.8"/>
<text x="100.6" y="322.4" font-size="32" text-anchor="end">60</text>
<line x1="115.1" y1="188.9" x2="107.8" y2="188.9" stroke="#000" stroke-width="1.8"/>
<text x="100.6" y="200.3" font-size="32" text-anchor="end">80</text>
<line x1="115.1" y1="66.9" x2="107.8" y2="66.9" stroke="#000" stroke-width="1.8"/>
<text x="100.6" y="78.3" font-size="32" text-anchor="end">100</text>
<text x="100.6" y="286.6" font-size="32" text-anchor="end" fill="#0a870a">64</text>
<text x="100.6" y="371.9" font-size="32" text-anchor="end" fill="#9370db">50</text>
<text x="100.6" y="475.8" font-size="32" text-anchor="end" fill="#6495ed">34</text>
<text x="508.5" y="755" font-size="36.3" text-anchor="middle">Radial Distance from the Center [km]</text>
<text transform="translate(30.7,342.5) rotate(-90)" font-size="36.3" text-anchor="middle">Wind Speed [knot]</text>
</svg></body></html>
